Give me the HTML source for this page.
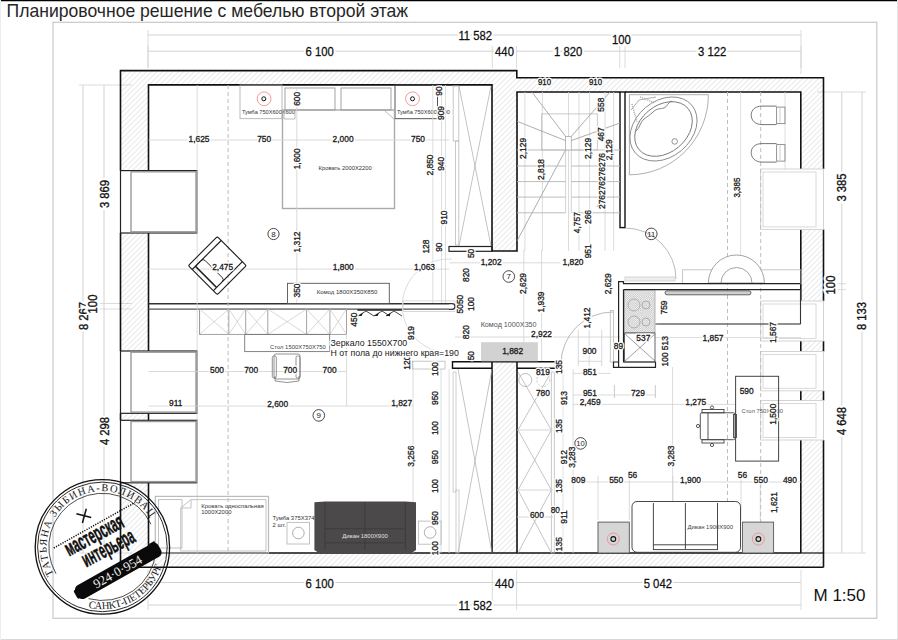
<!DOCTYPE html>
<html><head><meta charset="utf-8"><style>
html,body{margin:0;padding:0;background:#fff;}
svg{display:block;}
</style></head><body>
<svg width="898" height="640" viewBox="0 0 898 640" font-family="Liberation Sans, sans-serif">
<defs>
<pattern id="hatch" patternUnits="userSpaceOnUse" width="3.75" height="3.75" patternTransform="rotate(45)">
<line x1="0" y1="0" x2="0" y2="3.75" stroke="#c6c6c6" stroke-width="0.75"/>
</pattern>
<pattern id="checker" patternUnits="userSpaceOnUse" width="2.2" height="2.2"><rect width="2.2" height="2.2" fill="#fff"/><rect width="1.1" height="1.1" fill="#bbb"/><rect x="1.1" y="1.1" width="1.1" height="1.1" fill="#bbb"/></pattern>
</defs>
<rect width="898" height="640" fill="#fff"/>
<line x1="0" y1="0.5" x2="898" y2="0.5" stroke="#000" stroke-width="1.6"/>
<line x1="897.5" y1="0" x2="897.5" y2="640" stroke="#e6e6e6" stroke-width="1"/>
<line x1="0" y1="639.5" x2="898" y2="639.5" stroke="#d8d8d8" stroke-width="1"/>
<line x1="0.5" y1="0" x2="0.5" y2="640" stroke="#eeeeee" stroke-width="1"/>
<rect x="53" y="22.3" width="823.8" height="596.0" stroke="#c8c8c8" stroke-width="1.2" fill="none"/>
<text x="6.6" y="16.7" font-size="18.1" text-anchor="start" fill="#262626" font-weight="normal" font-family="Liberation Sans" textLength="401.5" lengthAdjust="spacingAndGlyphs">Планировочное решение с мебелью второй этаж</text>
<line x1="148" y1="35" x2="801" y2="35" stroke="#d2d2d2" stroke-width="1"/>
<line x1="148" y1="51.2" x2="801" y2="51.2" stroke="#d2d2d2" stroke-width="1"/>
<line x1="148" y1="46" x2="148" y2="68" stroke="#d2d2d2" stroke-width="0.8"/>
<line x1="492.3" y1="46" x2="492.3" y2="68" stroke="#d2d2d2" stroke-width="0.8"/>
<line x1="516.6" y1="46" x2="516.6" y2="68" stroke="#d2d2d2" stroke-width="0.8"/>
<line x1="619.7" y1="46" x2="619.7" y2="68" stroke="#d2d2d2" stroke-width="0.8"/>
<line x1="625" y1="46" x2="625" y2="68" stroke="#d2d2d2" stroke-width="0.8"/>
<line x1="801" y1="46" x2="801" y2="68" stroke="#d2d2d2" stroke-width="0.8"/>
<line x1="148" y1="30" x2="148" y2="68" stroke="#d2d2d2" stroke-width="0.8"/>
<line x1="801" y1="30" x2="801" y2="74" stroke="#d2d2d2" stroke-width="0.8"/>
<line x1="148" y1="582.5" x2="801" y2="582.5" stroke="#d2d2d2" stroke-width="1"/>
<line x1="148" y1="605" x2="801" y2="605" stroke="#d2d2d2" stroke-width="1"/>
<line x1="148" y1="570" x2="148" y2="610" stroke="#d2d2d2" stroke-width="0.8"/>
<line x1="492.3" y1="570" x2="492.3" y2="610" stroke="#d2d2d2" stroke-width="0.8"/>
<line x1="516.6" y1="570" x2="516.6" y2="610" stroke="#d2d2d2" stroke-width="0.8"/>
<line x1="801" y1="570" x2="801" y2="610" stroke="#d2d2d2" stroke-width="0.8"/>
<line x1="83" y1="85" x2="83" y2="553" stroke="#d2d2d2" stroke-width="1"/>
<line x1="104" y1="85" x2="104" y2="553" stroke="#d2d2d2" stroke-width="1"/>
<line x1="79" y1="85" x2="132" y2="85" stroke="#d2d2d2" stroke-width="0.8"/>
<line x1="79" y1="553" x2="132" y2="553" stroke="#d2d2d2" stroke-width="0.8"/>
<line x1="100" y1="303.5" x2="132" y2="303.5" stroke="#d2d2d2" stroke-width="0.8"/>
<line x1="100" y1="309" x2="132" y2="309" stroke="#d2d2d2" stroke-width="0.8"/>
<line x1="841.8" y1="92" x2="841.8" y2="553" stroke="#d2d2d2" stroke-width="1"/>
<line x1="862" y1="92" x2="862" y2="553" stroke="#d2d2d2" stroke-width="1"/>
<line x1="817" y1="92" x2="866" y2="92" stroke="#d2d2d2" stroke-width="0.8"/>
<line x1="817" y1="553" x2="866" y2="553" stroke="#d2d2d2" stroke-width="0.8"/>
<line x1="825" y1="283.7" x2="846" y2="283.7" stroke="#d2d2d2" stroke-width="0.8"/>
<line x1="825" y1="289.6" x2="846" y2="289.6" stroke="#d2d2d2" stroke-width="0.8"/>
<rect x="120" y="70.6" width="372" height="14.300000000000011" fill="url(#hatch)"/>
<rect x="492" y="70.6" width="25" height="180.4" fill="url(#hatch)"/>
<rect x="517" y="77.8" width="306.5" height="14.200000000000003" fill="url(#hatch)"/>
<rect x="120" y="84.9" width="28.5" height="85.69999999999999" fill="url(#hatch)"/>
<rect x="120" y="233" width="28.5" height="118" fill="url(#hatch)"/>
<rect x="120" y="413.3" width="28.5" height="7.0" fill="url(#hatch)"/>
<rect x="120" y="482.8" width="28.5" height="70.19999999999999" fill="url(#hatch)"/>
<rect x="120" y="553" width="703.5" height="14.299999999999955" fill="url(#hatch)"/>
<rect x="801" y="92" width="22.5" height="77" fill="url(#hatch)"/>
<rect x="801" y="229.4" width="22.5" height="71.6" fill="url(#hatch)"/>
<rect x="801" y="341" width="22.5" height="10.5" fill="url(#hatch)"/>
<rect x="801" y="390.8" width="22.5" height="9.699999999999989" fill="url(#hatch)"/>
<rect x="801" y="440" width="22.5" height="113" fill="url(#hatch)"/>
<rect x="492" y="361.7" width="25" height="191.3" fill="url(#hatch)"/>
<polyline points="120.5,170.6 120.5,70.6 516.8,70.6 516.8,77.8 823.5,77.8 823.5,169" stroke="#111" stroke-width="1.6" fill="none"/>
<polyline points="148.5,170.6 148.5,84.9 492,84.9 492,251 517,251 517,92 620,92" stroke="#111" stroke-width="1.6" fill="none"/>
<polyline points="625,92 800.8,92 800.8,169" stroke="#111" stroke-width="1.6" fill="none"/>
<line x1="120.5" y1="233" x2="120.5" y2="351" stroke="#111" stroke-width="1.6"/>
<line x1="148.5" y1="233" x2="148.5" y2="351" stroke="#111" stroke-width="1.6"/>
<line x1="120.5" y1="413.3" x2="120.5" y2="420.3" stroke="#111" stroke-width="1.6"/>
<line x1="148.5" y1="413.3" x2="148.5" y2="420.3" stroke="#111" stroke-width="1.6"/>
<line x1="120.5" y1="482.8" x2="120.5" y2="567.3" stroke="#111" stroke-width="1.6"/>
<line x1="148.5" y1="482.8" x2="148.5" y2="553" stroke="#111" stroke-width="1.6"/>
<line x1="120.5" y1="567.3" x2="823.5" y2="567.3" stroke="#111" stroke-width="1.6"/>
<line x1="148.5" y1="553" x2="801" y2="553" stroke="#111" stroke-width="1.6"/>
<line x1="801" y1="553" x2="823.5" y2="553" stroke="#111" stroke-width="1.2"/>
<line x1="823.5" y1="229.4" x2="823.5" y2="301" stroke="#111" stroke-width="1.6"/>
<line x1="800.8" y1="229.4" x2="800.8" y2="301" stroke="#111" stroke-width="1.6"/>
<line x1="823.5" y1="341" x2="823.5" y2="351.5" stroke="#111" stroke-width="1.6"/>
<line x1="800.8" y1="341" x2="800.8" y2="351.5" stroke="#111" stroke-width="1.6"/>
<line x1="823.5" y1="390.8" x2="823.5" y2="400.5" stroke="#111" stroke-width="1.6"/>
<line x1="800.8" y1="390.8" x2="800.8" y2="400.5" stroke="#111" stroke-width="1.6"/>
<line x1="823.5" y1="440" x2="823.5" y2="567.3" stroke="#111" stroke-width="1.6"/>
<line x1="800.8" y1="440" x2="800.8" y2="553" stroke="#111" stroke-width="1.6"/>
<rect x="120.5" y="170.6" width="76.5" height="62.400000000000006" stroke="#222" stroke-width="1.2" fill="none"/>
<rect x="131" y="171.79999999999998" width="65" height="60.00000000000003" stroke="#999" stroke-width="1.4" fill="none"/>
<rect x="120.5" y="351" width="76.5" height="62.30000000000001" stroke="#222" stroke-width="1.2" fill="none"/>
<rect x="131" y="352.2" width="65" height="59.900000000000034" stroke="#999" stroke-width="1.4" fill="none"/>
<rect x="120.5" y="420.3" width="76.5" height="62.5" stroke="#222" stroke-width="1.2" fill="none"/>
<rect x="131" y="421.5" width="65" height="60.10000000000002" stroke="#999" stroke-width="1.4" fill="none"/>
<rect x="760.6" y="169" width="62.89999999999998" height="60.400000000000006" stroke="#cfcfcf" stroke-width="0.9" fill="none"/>
<rect x="763" y="172" width="53" height="54.900000000000006" stroke="#d5d5d5" stroke-width="0.9" fill="none"/>
<rect x="760.6" y="301" width="62.89999999999998" height="40" stroke="#cfcfcf" stroke-width="0.9" fill="none"/>
<rect x="763" y="304" width="53" height="34.5" stroke="#d5d5d5" stroke-width="0.9" fill="none"/>
<rect x="760.6" y="351.5" width="62.89999999999998" height="39.30000000000001" stroke="#cfcfcf" stroke-width="0.9" fill="none"/>
<rect x="763" y="354.5" width="53" height="33.80000000000001" stroke="#d5d5d5" stroke-width="0.9" fill="none"/>
<rect x="760.6" y="400.5" width="62.89999999999998" height="39.5" stroke="#cfcfcf" stroke-width="0.9" fill="none"/>
<rect x="763" y="403.5" width="53" height="34.0" stroke="#d5d5d5" stroke-width="0.9" fill="none"/>
<path d="M 492 368.2 L 452.5 368.2 L 452.5 361.7 L 561.5 361.7 L 561.5 368.2 L 517 368.2" stroke="#111" stroke-width="1.4" fill="none"/>
<line x1="492" y1="361.7" x2="492" y2="553" stroke="#111" stroke-width="1.6"/>
<line x1="517" y1="361.7" x2="517" y2="553" stroke="#111" stroke-width="1.6"/>
<rect x="620" y="92" width="5" height="135.6" stroke="#111" stroke-width="1.4" fill="#fff"/>
<line x1="148.5" y1="303.7" x2="449" y2="303.7" stroke="#333" stroke-width="1.6"/>
<line x1="148.5" y1="309.2" x2="449" y2="309.2" stroke="#555" stroke-width="1.3"/>
<rect x="240" y="85" width="42" height="33.7" stroke="#aaa" stroke-width="0.8" fill="none"/>
<rect x="395" y="85" width="42.5" height="33.7" stroke="#444" stroke-width="0.9" fill="none"/>
<circle cx="264.1" cy="98.8" r="6.9" stroke="#f08080" stroke-width="0.8" fill="none"/>
<circle cx="263.8" cy="98.8" r="2" stroke="#111" stroke-width="1" fill="none"/>
<circle cx="412.5" cy="98.8" r="6.9" stroke="#f08080" stroke-width="0.8" fill="none"/>
<circle cx="412.5" cy="98.8" r="2" stroke="#111" stroke-width="1" fill="none"/>
<text x="242" y="114" font-size="5.6" text-anchor="start" fill="#333" font-weight="normal" font-family="Liberation Sans">Тумба 750Х600Х600</text>
<text x="397" y="114" font-size="5.6" text-anchor="start" fill="#333" font-weight="normal" font-family="Liberation Sans">Тумба 750Х600Х600</text>
<rect x="282.5" y="110" width="112.0" height="98.5" stroke="#aaa" stroke-width="1.4" fill="none"/>
<rect x="285" y="88" width="50" height="22" stroke="#999" stroke-width="0.9" fill="none"/>
<rect x="341" y="88" width="50" height="22" stroke="#999" stroke-width="0.9" fill="none"/>
<text x="345.2" y="170.3" font-size="5.85" text-anchor="middle" fill="#333" font-weight="normal" font-family="Liberation Sans">Кровать 2000Х2200</text>
<rect x="287.5" y="283.3" width="101.80000000000001" height="20.19999999999999" stroke="#555" stroke-width="0.9" fill="none"/>
<text x="347" y="294" font-size="6" text-anchor="middle" fill="#333" font-weight="normal" font-family="Liberation Sans">Комод 1800Х350Х850</text>
<line x1="445.5" y1="85" x2="445.5" y2="303" stroke="#d6d6d6" stroke-width="0.8"/>
<rect x="453.2" y="86" width="5.600000000000023" height="55" stroke="#bbb" stroke-width="0.8" fill="none"/>
<rect x="455.5" y="141" width="3.3000000000000114" height="104" stroke="#bbb" stroke-width="0.8" fill="none"/>
<rect x="449" y="246.5" width="43" height="4.800000000000011" stroke="#222" stroke-width="1.2" fill="none"/>
<line x1="459" y1="86" x2="491" y2="246" stroke="#aaa" stroke-width="0.7"/>
<line x1="491" y1="86" x2="459" y2="246" stroke="#aaa" stroke-width="0.7"/>
<rect x="199.5" y="309" width="147.0" height="25.399999999999977" stroke="#999" stroke-width="0.9" fill="none"/>
<line x1="199.6" y1="309" x2="199.6" y2="334.4" stroke="#999" stroke-width="0.9"/>
<line x1="199.6" y1="309" x2="228.8" y2="334.4" stroke="#c0c0c0" stroke-width="0.6"/>
<line x1="228.8" y1="309" x2="199.6" y2="334.4" stroke="#c0c0c0" stroke-width="0.6"/>
<line x1="228.8" y1="309" x2="228.8" y2="334.4" stroke="#999" stroke-width="0.9"/>
<line x1="228.8" y1="309" x2="245.7" y2="334.4" stroke="#c0c0c0" stroke-width="0.6"/>
<line x1="245.7" y1="309" x2="228.8" y2="334.4" stroke="#c0c0c0" stroke-width="0.6"/>
<line x1="245.7" y1="309" x2="245.7" y2="334.4" stroke="#999" stroke-width="0.9"/>
<line x1="245.7" y1="309" x2="267.8" y2="334.4" stroke="#c0c0c0" stroke-width="0.6"/>
<line x1="267.8" y1="309" x2="245.7" y2="334.4" stroke="#c0c0c0" stroke-width="0.6"/>
<line x1="267.8" y1="309" x2="267.8" y2="334.4" stroke="#999" stroke-width="0.9"/>
<line x1="267.8" y1="309" x2="306.6" y2="334.4" stroke="#c0c0c0" stroke-width="0.6"/>
<line x1="306.6" y1="309" x2="267.8" y2="334.4" stroke="#c0c0c0" stroke-width="0.6"/>
<line x1="306.6" y1="309" x2="306.6" y2="334.4" stroke="#999" stroke-width="0.9"/>
<line x1="306.6" y1="309" x2="329.9" y2="334.4" stroke="#c0c0c0" stroke-width="0.6"/>
<line x1="329.9" y1="309" x2="306.6" y2="334.4" stroke="#c0c0c0" stroke-width="0.6"/>
<line x1="329.9" y1="309" x2="329.9" y2="334.4" stroke="#999" stroke-width="0.9"/>
<line x1="329.9" y1="309" x2="346.5" y2="334.4" stroke="#c0c0c0" stroke-width="0.6"/>
<line x1="346.5" y1="309" x2="329.9" y2="334.4" stroke="#c0c0c0" stroke-width="0.6"/>
<line x1="357.3" y1="310" x2="402.4" y2="310" stroke="#222" stroke-width="1.6"/>
<text x="0" y="0" font-size="11.3" text-anchor="start" fill="#fff" stroke="#fff" stroke-width="4" font-weight="normal" font-family="Liberation Sans" transform="translate(458.4 39.8) scale(1 1.1)">11 582</text>
<text x="0" y="0" font-size="11.3" text-anchor="start" fill="#111" font-weight="normal" font-family="Liberation Sans" transform="translate(458.4 39.8) scale(1 1.1)" stroke="#111" stroke-width="0.25">11 582</text>
<text x="0" y="0" font-size="11.3" text-anchor="start" fill="#fff" stroke="#fff" stroke-width="4" font-weight="normal" font-family="Liberation Sans" transform="translate(305.5 55.6) scale(1 1.1)">6 100</text>
<text x="0" y="0" font-size="11.3" text-anchor="start" fill="#111" font-weight="normal" font-family="Liberation Sans" transform="translate(305.5 55.6) scale(1 1.1)" stroke="#111" stroke-width="0.25">6 100</text>
<text x="0" y="0" font-size="11.3" text-anchor="start" fill="#fff" stroke="#fff" stroke-width="4" font-weight="normal" font-family="Liberation Sans" transform="translate(495.1 55.6) scale(1 1.1)">440</text>
<text x="0" y="0" font-size="11.3" text-anchor="start" fill="#111" font-weight="normal" font-family="Liberation Sans" transform="translate(495.1 55.6) scale(1 1.1)" stroke="#111" stroke-width="0.25">440</text>
<text x="0" y="0" font-size="11.3" text-anchor="start" fill="#fff" stroke="#fff" stroke-width="4" font-weight="normal" font-family="Liberation Sans" transform="translate(554 55.6) scale(1 1.1)">1 820</text>
<text x="0" y="0" font-size="11.3" text-anchor="start" fill="#111" font-weight="normal" font-family="Liberation Sans" transform="translate(554 55.6) scale(1 1.1)" stroke="#111" stroke-width="0.25">1 820</text>
<text x="0" y="0" font-size="11.3" text-anchor="start" fill="#fff" stroke="#fff" stroke-width="4" font-weight="normal" font-family="Liberation Sans" transform="translate(612 44) scale(1 1.1)">100</text>
<text x="0" y="0" font-size="11.3" text-anchor="start" fill="#111" font-weight="normal" font-family="Liberation Sans" transform="translate(612 44) scale(1 1.1)" stroke="#111" stroke-width="0.25">100</text>
<text x="0" y="0" font-size="11.3" text-anchor="start" fill="#fff" stroke="#fff" stroke-width="4" font-weight="normal" font-family="Liberation Sans" transform="translate(698 55.6) scale(1 1.1)">3 122</text>
<text x="0" y="0" font-size="11.3" text-anchor="start" fill="#111" font-weight="normal" font-family="Liberation Sans" transform="translate(698 55.6) scale(1 1.1)" stroke="#111" stroke-width="0.25">3 122</text>
<text x="0" y="0" font-size="11.3" text-anchor="start" fill="#fff" stroke="#fff" stroke-width="4" font-weight="normal" font-family="Liberation Sans" transform="translate(305.5 587.5) scale(1 1.1)">6 100</text>
<text x="0" y="0" font-size="11.3" text-anchor="start" fill="#111" font-weight="normal" font-family="Liberation Sans" transform="translate(305.5 587.5) scale(1 1.1)" stroke="#111" stroke-width="0.25">6 100</text>
<text x="0" y="0" font-size="11.3" text-anchor="start" fill="#fff" stroke="#fff" stroke-width="4" font-weight="normal" font-family="Liberation Sans" transform="translate(495.1 587.5) scale(1 1.1)">440</text>
<text x="0" y="0" font-size="11.3" text-anchor="start" fill="#111" font-weight="normal" font-family="Liberation Sans" transform="translate(495.1 587.5) scale(1 1.1)" stroke="#111" stroke-width="0.25">440</text>
<text x="0" y="0" font-size="11.3" text-anchor="start" fill="#fff" stroke="#fff" stroke-width="4" font-weight="normal" font-family="Liberation Sans" transform="translate(643.7 587.5) scale(1 1.1)">5 042</text>
<text x="0" y="0" font-size="11.3" text-anchor="start" fill="#111" font-weight="normal" font-family="Liberation Sans" transform="translate(643.7 587.5) scale(1 1.1)" stroke="#111" stroke-width="0.25">5 042</text>
<text x="0" y="0" font-size="11.3" text-anchor="start" fill="#fff" stroke="#fff" stroke-width="4" font-weight="normal" font-family="Liberation Sans" transform="translate(458.4 609.6) scale(1 1.1)">11 582</text>
<text x="0" y="0" font-size="11.3" text-anchor="start" fill="#111" font-weight="normal" font-family="Liberation Sans" transform="translate(458.4 609.6) scale(1 1.1)" stroke="#111" stroke-width="0.25">11 582</text>
<text x="813.5" y="601.3" font-size="17" text-anchor="start" fill="#111" font-weight="normal" font-family="Liberation Sans">M 1:50</text>
<text x="0" y="0" font-size="11.3" text-anchor="middle" fill="#fff" stroke="#fff" stroke-width="4.5" font-family="Liberation Sans" transform="translate(109.4748 194) rotate(-90) scale(1 1.1)">3 869</text>
<text x="0" y="0" font-size="11.3" text-anchor="middle" fill="#111" stroke="#111" stroke-width="0.3" font-weight="normal" font-family="Liberation Sans" transform="translate(109.4748 194) rotate(-90) scale(1 1.1)">3 869</text>
<text x="0" y="0" font-size="11.3" text-anchor="middle" fill="#fff" stroke="#fff" stroke-width="4.5" font-family="Liberation Sans" transform="translate(88.4748 316) rotate(-90) scale(1 1.1)">8 267</text>
<text x="0" y="0" font-size="11.3" text-anchor="middle" fill="#111" stroke="#111" stroke-width="0.3" font-weight="normal" font-family="Liberation Sans" transform="translate(88.4748 316) rotate(-90) scale(1 1.1)">8 267</text>
<text x="0" y="0" font-size="11.3" text-anchor="middle" fill="#fff" stroke="#fff" stroke-width="4.5" font-family="Liberation Sans" transform="translate(97.4748 304) rotate(-90) scale(1 1.1)">100</text>
<text x="0" y="0" font-size="11.3" text-anchor="middle" fill="#111" stroke="#111" stroke-width="0.3" font-weight="normal" font-family="Liberation Sans" transform="translate(97.4748 304) rotate(-90) scale(1 1.1)">100</text>
<text x="0" y="0" font-size="11.3" text-anchor="middle" fill="#fff" stroke="#fff" stroke-width="4.5" font-family="Liberation Sans" transform="translate(109.4748 431) rotate(-90) scale(1 1.1)">4 298</text>
<text x="0" y="0" font-size="11.3" text-anchor="middle" fill="#111" stroke="#111" stroke-width="0.3" font-weight="normal" font-family="Liberation Sans" transform="translate(109.4748 431) rotate(-90) scale(1 1.1)">4 298</text>
<text x="0" y="0" font-size="11.3" text-anchor="middle" fill="#fff" stroke="#fff" stroke-width="4.5" font-family="Liberation Sans" transform="translate(846.2747999999999 187.5) rotate(-90) scale(1 1.1)">3 385</text>
<text x="0" y="0" font-size="11.3" text-anchor="middle" fill="#111" stroke="#111" stroke-width="0.3" font-weight="normal" font-family="Liberation Sans" transform="translate(846.2747999999999 187.5) rotate(-90) scale(1 1.1)">3 385</text>
<text x="0" y="0" font-size="11.3" text-anchor="middle" fill="#fff" stroke="#fff" stroke-width="4.5" font-family="Liberation Sans" transform="translate(834.9748 285) rotate(-90) scale(1 1.1)">100</text>
<text x="0" y="0" font-size="11.3" text-anchor="middle" fill="#111" stroke="#111" stroke-width="0.3" font-weight="normal" font-family="Liberation Sans" transform="translate(834.9748 285) rotate(-90) scale(1 1.1)">100</text>
<text x="0" y="0" font-size="11.3" text-anchor="middle" fill="#fff" stroke="#fff" stroke-width="4.5" font-family="Liberation Sans" transform="translate(866.2747999999999 316) rotate(-90) scale(1 1.1)">8 133</text>
<text x="0" y="0" font-size="11.3" text-anchor="middle" fill="#111" stroke="#111" stroke-width="0.3" font-weight="normal" font-family="Liberation Sans" transform="translate(866.2747999999999 316) rotate(-90) scale(1 1.1)">8 133</text>
<text x="0" y="0" font-size="11.3" text-anchor="middle" fill="#fff" stroke="#fff" stroke-width="4.5" font-family="Liberation Sans" transform="translate(846.2747999999999 421) rotate(-90) scale(1 1.1)">4 648</text>
<text x="0" y="0" font-size="11.3" text-anchor="middle" fill="#111" stroke="#111" stroke-width="0.3" font-weight="normal" font-family="Liberation Sans" transform="translate(846.2747999999999 421) rotate(-90) scale(1 1.1)">4 648</text>
<line x1="197.2" y1="85" x2="197.2" y2="553" stroke="#d4d4d4" stroke-width="0.8"/>
<line x1="228.1" y1="85" x2="228.1" y2="553" stroke="#bdbdbd" stroke-width="1.0" stroke-dasharray="4,3"/>
<line x1="148.5" y1="140" x2="449" y2="140" stroke="#d0d0d0" stroke-width="0.8"/>
<line x1="148.5" y1="269.1" x2="449" y2="269.1" stroke="#d0d0d0" stroke-width="0.8"/>
<line x1="296.8" y1="88" x2="296.8" y2="303" stroke="#cfcfcf" stroke-width="0.8"/>
<line x1="432.8" y1="85" x2="432.8" y2="303" stroke="#d6d6d6" stroke-width="0.8"/>
<line x1="441.5" y1="85" x2="441.5" y2="303" stroke="#d6d6d6" stroke-width="0.8"/>
<line x1="449.5" y1="262.8" x2="560" y2="262.8" stroke="#d0d0d0" stroke-width="0.8"/>
<line x1="455" y1="337" x2="620" y2="337" stroke="#d0d0d0" stroke-width="0.8"/>
<line x1="523.8" y1="250" x2="523.8" y2="361" stroke="#d0d0d0" stroke-width="0.8"/>
<line x1="541.6" y1="250" x2="541.6" y2="361" stroke="#d0d0d0" stroke-width="0.8"/>
<line x1="148.5" y1="371.5" x2="346.6" y2="371.5" stroke="#d0d0d0" stroke-width="0.8"/>
<line x1="148.5" y1="406" x2="413" y2="406" stroke="#d0d0d0" stroke-width="0.8"/>
<line x1="346.6" y1="334" x2="346.6" y2="406" stroke="#d0d0d0" stroke-width="0.8"/>
<line x1="413" y1="361" x2="413" y2="553" stroke="#d0d0d0" stroke-width="0.8"/>
<line x1="441" y1="369" x2="441" y2="553" stroke="#d6d6d6" stroke-width="0.8"/>
<line x1="449.1" y1="369" x2="449.1" y2="553" stroke="#d6d6d6" stroke-width="0.8"/>
<line x1="573.1" y1="369" x2="573.1" y2="553" stroke="#d0d0d0" stroke-width="0.8"/>
<line x1="563" y1="369" x2="563" y2="553" stroke="#dadada" stroke-width="0.8"/>
<line x1="672.6" y1="367" x2="672.6" y2="553" stroke="#d0d0d0" stroke-width="0.8"/>
<line x1="573" y1="373.4" x2="611" y2="373.4" stroke="#d0d0d0" stroke-width="0.8"/>
<line x1="573" y1="395" x2="656" y2="395" stroke="#d0d0d0" stroke-width="0.8"/>
<line x1="573" y1="404.4" x2="735" y2="404.4" stroke="#d0d0d0" stroke-width="0.8"/>
<line x1="614.4" y1="385" x2="614.4" y2="398" stroke="#bbb" stroke-width="0.8"/>
<line x1="655.3" y1="385" x2="655.3" y2="398" stroke="#bbb" stroke-width="0.8"/>
<line x1="573" y1="482" x2="801" y2="482" stroke="#d0d0d0" stroke-width="0.8"/>
<line x1="598" y1="476" x2="598" y2="520" stroke="#d0d0d0" stroke-width="0.8"/>
<line x1="629.3" y1="476" x2="629.3" y2="520" stroke="#d0d0d0" stroke-width="0.8"/>
<line x1="672.9" y1="476" x2="672.9" y2="520" stroke="#d0d0d0" stroke-width="0.8"/>
<line x1="741" y1="476" x2="741" y2="520" stroke="#d0d0d0" stroke-width="0.8"/>
<line x1="760.3" y1="476" x2="760.3" y2="520" stroke="#d0d0d0" stroke-width="0.8"/>
<line x1="727.5" y1="92" x2="727.5" y2="553" stroke="#bdbdbd" stroke-width="1.0" stroke-dasharray="4,3"/>
<line x1="760.7" y1="92" x2="760.7" y2="553" stroke="#bdbdbd" stroke-width="1.0" stroke-dasharray="4,3"/>
<line x1="740.6" y1="92" x2="740.6" y2="283" stroke="#d6d6d6" stroke-width="0.8"/>
<line x1="785" y1="92" x2="785" y2="170" stroke="#d6d6d6" stroke-width="0.8"/>
<line x1="660" y1="324" x2="801" y2="324" stroke="#d0d0d0" stroke-width="0.8"/>
<line x1="655" y1="337.5" x2="801" y2="337.5" stroke="#d6d6d6" stroke-width="0.8"/>
<line x1="524.9" y1="92" x2="524.9" y2="251" stroke="#d2d2d2" stroke-width="0.8"/>
<line x1="542.4" y1="92" x2="542.4" y2="251" stroke="#d2d2d2" stroke-width="0.8"/>
<line x1="568.5" y1="92" x2="568.5" y2="251" stroke="#d2d2d2" stroke-width="0.8"/>
<line x1="579" y1="92" x2="579" y2="251" stroke="#d2d2d2" stroke-width="0.8"/>
<line x1="589.6" y1="92" x2="589.6" y2="251" stroke="#d2d2d2" stroke-width="0.8"/>
<line x1="605" y1="92" x2="605" y2="251" stroke="#d2d2d2" stroke-width="0.8"/>
<line x1="613.6" y1="92" x2="613.6" y2="251" stroke="#d2d2d2" stroke-width="0.8"/>
<polyline points="284,110 284,119 295,119 295,110" stroke="#aaa" stroke-width="0.8" fill="none"/>
<polyline points="384,110 394,119" stroke="#aaa" stroke-width="0.8" fill="none"/>
<g transform="translate(217.3,265.6) rotate(45)" stroke="#1a1a1a" fill="none" stroke-width="1.1"><rect x="-20.5" y="-20.5" width="41" height="41" rx="1.5"/><line x1="-15" y1="-20.5" x2="-15" y2="20.5"/><line x1="15" y1="-20.5" x2="15" y2="20.5"/><line x1="-15" y1="16" x2="15" y2="16" stroke-width="1.6"/><path d="M -15 15 L -15 8 Q -15 5 -12 5 L 12 5 Q 15 5 15 8" stroke-width="0.9"/></g>
<circle cx="273.5" cy="234" r="5.6" stroke="#333" stroke-width="0.9" fill="none"/>
<text x="273.5" y="237" font-size="8" text-anchor="middle" fill="#222" font-weight="normal" font-family="Liberation Sans">8</text>
<rect x="403" y="300.9" width="52" height="10.600000000000023" stroke="#cfcfcf" stroke-width="0.8" fill="none"/>
<path d="M 449 303.7 L 452 303.7 Q 455 303.7 455 306.5 Q 455 309.3 452 309.3 L 449 309.3" stroke="#333" stroke-width="1.3" fill="none"/>
<path d="M 452 259 A 47 47 0 0 0 440 352" stroke="#d8d8d8" stroke-width="0.9" fill="none"/>
<polyline points="358,316 366,311 374,316 382,311 390,316" stroke="#333" stroke-width="0.9" fill="none"/>
<polyline points="386,316 394,311 402,316" stroke="#333" stroke-width="0.9" fill="none"/>
<path d="M 358 316 l 5 -3.2 l -1.5 3.2 z" fill="#111"/>
<path d="M 374 316 l 5 -3.2 l -1.5 3.2 z" fill="#111"/>
<path d="M 386 316 l 5 -3.2 l -1.5 3.2 z" fill="#111"/>
<rect x="412.5" y="361.2" width="32.5" height="7.800000000000011" stroke="#bbb" stroke-width="0.8" fill="none"/>
<rect x="541.5" y="113.9" width="55.799999999999955" height="36.099999999999994" stroke="#bdbdbd" stroke-width="0.8" fill="none"/>
<rect x="565.6" y="136.4" width="5.699999999999932" height="13.599999999999994" stroke="#aaa" stroke-width="0.8" fill="#fff"/>
<line x1="565.6" y1="150" x2="565.6" y2="212.8" stroke="#c8c8c8" stroke-width="0.8"/>
<line x1="571.3" y1="150" x2="571.3" y2="212.8" stroke="#c8c8c8" stroke-width="0.8"/>
<line x1="531.9" y1="92" x2="565.6" y2="136.4" stroke="#999" stroke-width="0.8"/>
<line x1="610" y1="92" x2="571.3" y2="136.4" stroke="#999" stroke-width="0.8"/>
<line x1="517" y1="121.3" x2="565.6" y2="140.6" stroke="#999" stroke-width="0.8"/>
<line x1="620" y1="123" x2="571.3" y2="140.6" stroke="#999" stroke-width="0.8"/>
<line x1="565.6" y1="150" x2="517" y2="241" stroke="#999" stroke-width="0.8"/>
<line x1="517" y1="150" x2="565.6" y2="150" stroke="#b5b5b5" stroke-width="0.9"/>
<line x1="571.3" y1="150" x2="620" y2="150" stroke="#b5b5b5" stroke-width="0.9"/>
<line x1="517" y1="166" x2="565.6" y2="166" stroke="#b5b5b5" stroke-width="0.9"/>
<line x1="571.3" y1="166" x2="620" y2="166" stroke="#b5b5b5" stroke-width="0.9"/>
<line x1="517" y1="181.6" x2="565.6" y2="181.6" stroke="#b5b5b5" stroke-width="0.9"/>
<line x1="571.3" y1="181.6" x2="620" y2="181.6" stroke="#b5b5b5" stroke-width="0.9"/>
<line x1="517" y1="197.1" x2="565.6" y2="197.1" stroke="#b5b5b5" stroke-width="0.9"/>
<line x1="571.3" y1="197.1" x2="620" y2="197.1" stroke="#b5b5b5" stroke-width="0.9"/>
<line x1="517" y1="212.8" x2="565.6" y2="212.8" stroke="#b5b5b5" stroke-width="0.9"/>
<line x1="571.3" y1="212.8" x2="620" y2="212.8" stroke="#b5b5b5" stroke-width="0.9"/>
<line x1="597" y1="207" x2="601" y2="200" stroke="#666" stroke-width="0.8"/>
<path d="M 629.4 174.8 L 629.4 94.7 L 708.4 94.7 A 79 80 0 0 1 629.4 174.8" stroke="#9a9a9a" stroke-width="0.8" fill="#fff"/>
<ellipse cx="663.5" cy="129" rx="37" ry="28" transform="rotate(-40 663.5 129)" stroke="#888" stroke-width="0.9" fill="#fff"/>
<ellipse cx="663.5" cy="129" rx="32" ry="23.5" transform="rotate(-40 663.5 129)" stroke="#777" stroke-width="0.9" fill="none"/>
<path d="M 636 131 C 640 128 640 122 644 119 C 648 116 650 115 653 112 C 657 108 661 109 664 108 C 667 107 668 102 672 101" stroke="#777" stroke-width="0.9" fill="none"/>
<path d="M 631 110 L 639 100 L 656 97" stroke="#999" stroke-width="0.8" fill="none"/>
<path d="M 632 104 L 637 122 M 640 97 L 655 103" stroke="#aaa" stroke-width="1.6" stroke-dasharray="1,1" fill="none"/>
<circle cx="674.7" cy="141.4" r="2.8" stroke="#777" stroke-width="0.8" fill="none"/>
<path d="M 776.6 106.1 L 762 106.1 C 755 106.1 751.2 110.1 751.2 115.1 C 751.2 120.1 755 124.6 762 124.6 L 776.6 124.6" stroke="#666" stroke-width="0.9" fill="none"/>
<rect x="776.6" y="107.1" width="8.399999999999977" height="16.5" stroke="#888" stroke-width="0.9" fill="none"/>
<line x1="780" y1="108.1" x2="780" y2="122.6" stroke="#aaa" stroke-width="0.6"/>
<path d="M 776.6 143.6 L 762 143.6 C 755 143.6 751.2 147.6 751.2 152.6 C 751.2 157.6 755 162.1 762 162.1 L 776.6 162.1" stroke="#666" stroke-width="0.9" fill="none"/>
<rect x="776.6" y="144.6" width="8.399999999999977" height="16.5" stroke="#888" stroke-width="0.9" fill="none"/>
<line x1="780" y1="145.6" x2="780" y2="160.1" stroke="#aaa" stroke-width="0.6"/>
<path d="M 625 228 A 51 51 0 0 1 676 279" stroke="#aaa" stroke-width="0.8" fill="none"/>
<rect x="625" y="277" width="50" height="4" stroke="#ccc" stroke-width="0.8" fill="#eee"/>
<circle cx="651.3" cy="233.9" r="5.8" stroke="#333" stroke-width="0.9" fill="none"/>
<text x="651.3" y="236.8" font-size="7.6" text-anchor="middle" fill="#222" font-weight="normal" font-family="Liberation Sans">11</text>
<rect x="682.4" y="269.8" width="118.60000000000002" height="13.899999999999977" stroke="#bbb" stroke-width="0.8" fill="none"/>
<path d="M 708.4 283 A 28 28 0 0 1 764.4 283 Z" stroke="#999" stroke-width="0.9" fill="#fff"/>
<path d="M 721 283 A 15.5 15.5 0 0 1 752 283" stroke="#999" stroke-width="0.9" fill="none"/>
<path d="M 561 364 A 52 52 0 0 1 613 312" stroke="#aaa" stroke-width="0.8" fill="none"/>
<rect x="610.3" y="310.5" width="3.1000000000000227" height="51.5" stroke="#bbb" stroke-width="0.8" fill="none"/>
<line x1="578" y1="361.3" x2="602" y2="361.3" stroke="#d0d0d0" stroke-width="0.8"/>
<line x1="578.3" y1="330" x2="578.3" y2="366" stroke="#d0d0d0" stroke-width="0.8"/>
<line x1="589.2" y1="330" x2="589.2" y2="366" stroke="#d0d0d0" stroke-width="0.8"/>
<line x1="601.7" y1="330" x2="601.7" y2="366" stroke="#d0d0d0" stroke-width="0.8"/>
<polyline points="618.6,367.4 618.6,281.6 623.5,281.6 623.5,283.7 800.5,283.7" stroke="#222" stroke-width="1.2" fill="none"/>
<line x1="623.5" y1="289.6" x2="800.5" y2="289.6" stroke="#222" stroke-width="1.2"/>
<polyline points="623.5,289.6 623.5,362 655.5,362 655.5,367.4 613.5,367.4 613.5,362 618.6,362" stroke="#222" stroke-width="1.2" fill="none"/>
<line x1="655.5" y1="324" x2="800.5" y2="324" stroke="#333" stroke-width="1.1"/>
<line x1="800.5" y1="289.6" x2="800.5" y2="324" stroke="#333" stroke-width="1.1"/>
<rect x="624.5" y="290.5" width="30.5" height="42" fill="url(#checker)" stroke="#888" stroke-width="0.6"/>
<rect x="624.5" y="333" width="30.5" height="29" stroke="#555" stroke-width="0.9" fill="none"/>
<line x1="625" y1="334" x2="655" y2="361" stroke="#777" stroke-width="0.7"/>
<line x1="655" y1="334" x2="625" y2="361" stroke="#777" stroke-width="0.7"/>
<circle cx="634" cy="305" r="6" stroke="#999" stroke-width="0.7" fill="none"/>
<circle cx="646" cy="305" r="4" stroke="#999" stroke-width="0.7" fill="none"/>
<circle cx="634" cy="322" r="6" stroke="#999" stroke-width="0.7" fill="none"/>
<circle cx="646" cy="322" r="4" stroke="#999" stroke-width="0.7" fill="none"/>
<rect x="665" y="290.8" width="86" height="4" rx="2" fill="#cfcfcf" stroke="#444" stroke-width="0.8"/>
<rect x="244.7" y="334.4" width="85.0" height="17.200000000000045" stroke="#777" stroke-width="0.9" fill="none"/>
<g stroke="#777" stroke-width="0.8" fill="none"><rect x="274" y="354" width="26" height="25" rx="2"/><rect x="272.3" y="356" width="4" height="22" rx="1.5"/><rect x="296" y="356" width="4" height="22" rx="1.5"/><path d="M 275 376 L 275 381 Q 287 384 299 381 L 299 376"/></g>
<circle cx="508.8" cy="276.5" r="5.8" stroke="#333" stroke-width="0.9" fill="none"/>
<text x="508.8" y="279.4" font-size="8" text-anchor="middle" fill="#222" font-weight="normal" font-family="Liberation Sans">7</text>
<circle cx="318.8" cy="415.4" r="5.8" stroke="#333" stroke-width="0.9" fill="none"/>
<text x="318.8" y="418.3" font-size="8" text-anchor="middle" fill="#222" font-weight="normal" font-family="Liberation Sans">9</text>
<rect x="155.3" y="496.4" width="113.19999999999999" height="56.60000000000002" stroke="#bbb" stroke-width="1.2" fill="none"/>
<rect x="158.5" y="499.6" width="23.5" height="48.39999999999998" stroke="#bbb" stroke-width="0.9" fill="none"/>
<polyline points="191,499.6 266,499.6 266,551 180.7,551 180.7,508 191,499.6 191,508 180.7,508" stroke="#bbb" stroke-width="0.9" fill="none"/>
<text x="201.3" y="507.6" font-size="5.9" text-anchor="start" fill="#333" font-weight="normal" font-family="Liberation Sans">Кровать односпальная</text>
<text x="201.3" y="514.2" font-size="5.9" text-anchor="start" fill="#333" font-weight="normal" font-family="Liberation Sans">1000Х2000</text>
<text x="272.6" y="520" font-size="5.9" text-anchor="start" fill="#333" font-weight="normal" font-family="Liberation Sans">Тумба 375Х374Х550</text>
<text x="272.6" y="526.7" font-size="5.9" text-anchor="start" fill="#333" font-weight="normal" font-family="Liberation Sans">2 шт.</text>
<rect x="287" y="522.4" width="22.5" height="21.600000000000023" stroke="#bbb" stroke-width="0.9" fill="none"/>
<circle cx="298.4" cy="533" r="5.8" stroke="#999" stroke-width="0.8" fill="none"/>
<rect x="418.4" y="521.1" width="22.700000000000045" height="23.100000000000023" stroke="#bbb" stroke-width="0.9" fill="none"/>
<circle cx="430.1" cy="532.5" r="5.8" stroke="#999" stroke-width="0.8" fill="none"/>
<g><path d="M 314.4 502.3 L 325 501.4 L 405.3 501.4 L 416 502.3 L 416 550.1 L 412 552.8 L 318.4 552.8 L 314.4 550.1 Z" fill="#4b4949"/><g stroke="#3a3838" stroke-width="0.8" fill="none"><line x1="325" y1="502" x2="325" y2="550"/><line x1="405.3" y1="502" x2="405.3" y2="550"/><line x1="364.9" y1="502" x2="364.9" y2="550"/><line x1="325" y1="528.8" x2="405.3" y2="528.8"/><line x1="325" y1="542.8" x2="405.3" y2="542.8"/></g><text x="365" y="538.1" font-size="5.9" text-anchor="middle" fill="#e0e0e0" font-family="Liberation Sans">Диван 1800Х900</text></g>
<line x1="458" y1="369" x2="492" y2="553" stroke="#aaa" stroke-width="0.7"/>
<line x1="492" y1="369" x2="458" y2="553" stroke="#aaa" stroke-width="0.7"/>
<rect x="453.1" y="372" width="2.8999999999999773" height="120" stroke="#bbb" stroke-width="0.7" fill="none"/>
<rect x="456" y="490" width="3" height="63" stroke="#bbb" stroke-width="0.7" fill="none"/>
<line x1="518" y1="372" x2="551.3" y2="430" stroke="#aaa" stroke-width="0.7"/>
<line x1="551.3" y1="372" x2="518" y2="430" stroke="#aaa" stroke-width="0.7"/>
<line x1="518" y1="430" x2="551.3" y2="490" stroke="#aaa" stroke-width="0.7"/>
<line x1="551.3" y1="430" x2="518" y2="490" stroke="#aaa" stroke-width="0.7"/>
<line x1="518" y1="490" x2="551.3" y2="553" stroke="#aaa" stroke-width="0.7"/>
<line x1="551.3" y1="490" x2="518" y2="553" stroke="#aaa" stroke-width="0.7"/>
<rect x="551.3" y="372" width="3.0" height="181" stroke="#bbb" stroke-width="0.8" fill="none"/>
<circle cx="525.3" cy="380" r="6.5" stroke="#aaa" stroke-width="0.8" fill="none"/>
<circle cx="543.3" cy="380" r="6.5" stroke="#bbb" stroke-width="0.8" fill="none" stroke-dasharray="2,1.5"/>
<line x1="517" y1="430" x2="553" y2="430" stroke="#ccc" stroke-width="0.8"/>
<line x1="517" y1="490" x2="553" y2="490" stroke="#ccc" stroke-width="0.8"/>
<line x1="517" y1="517" x2="553" y2="517" stroke="#ccc" stroke-width="0.8"/>
<circle cx="580.6" cy="443.4" r="5.8" stroke="#333" stroke-width="0.9" fill="none"/>
<text x="580.6" y="446.3" font-size="7.6" text-anchor="middle" fill="#222" font-weight="normal" font-family="Liberation Sans">10</text>
<rect x="735.6" y="376.3" width="43.0" height="84.80000000000001" stroke="#444" stroke-width="1.0" fill="none"/>
<text x="741.6" y="412.8" font-size="5.8" text-anchor="start" fill="#555" font-weight="normal" font-family="Liberation Sans">Стол 750Х1500</text>
<g stroke="#444" stroke-width="0.9" fill="none"><rect x="700.3" y="412.8" width="34.7" height="26.9" rx="1.5"/><line x1="708" y1="413" x2="708" y2="439.5"/><rect x="702" y="409.5" width="22" height="3.3"/><rect x="702" y="439.7" width="22" height="3.3"/><rect x="733.5" y="414.5" width="3" height="23"/><circle cx="712" cy="407.5" r="1.6"/><circle cx="712" cy="445" r="1.6"/><circle cx="698" cy="426" r="1.6"/></g>
<g stroke="#333" stroke-width="0.9" fill="#fff"><rect x="632" y="501.5" width="108.5" height="50.8" rx="5"/><line x1="653.4" y1="503" x2="653.4" y2="550"/><line x1="717.5" y1="503" x2="717.5" y2="550"/><line x1="685.4" y1="503" x2="685.4" y2="549"/><line x1="653.4" y1="544.8" x2="717.5" y2="544.8"/><line x1="653.4" y1="549.6" x2="717.5" y2="549.6"/></g>
<text x="687.6" y="528.8" font-size="5.9" text-anchor="start" fill="#444" font-weight="normal" font-family="Liberation Sans">Диван 1900Х900</text>
<rect x="598" y="522.1" width="31.299999999999955" height="30.899999999999977" stroke="#555" stroke-width="0.9" fill="#d6d6d6"/>
<circle cx="613.3" cy="539" r="6" stroke="#f08a8a" stroke-width="0.8" fill="none"/>
<circle cx="613.3" cy="539" r="2.4" stroke="#111" stroke-width="1.1" fill="none"/>
<rect x="742.4" y="522.1" width="31.200000000000045" height="30.899999999999977" stroke="#555" stroke-width="0.9" fill="#d6d6d6"/>
<circle cx="758.4" cy="539" r="6" stroke="#f08a8a" stroke-width="0.8" fill="none"/>
<circle cx="758.4" cy="539" r="2.4" stroke="#111" stroke-width="1.1" fill="none"/>
<text x="0" y="0" font-size="8.4" text-anchor="start" fill="#fff" stroke="#fff" stroke-width="2.8" font-weight="normal" font-family="Liberation Sans" transform="translate(188.5 141.5) scale(1 1.06)">1,625</text>
<text x="0" y="0" font-size="8.4" text-anchor="start" fill="#1c1c1c" font-weight="normal" font-family="Liberation Sans" transform="translate(188.5 141.5) scale(1 1.06)" stroke="#1c1c1c" stroke-width="0.3">1,625</text>
<text x="0" y="0" font-size="8.4" text-anchor="start" fill="#fff" stroke="#fff" stroke-width="2.8" font-weight="normal" font-family="Liberation Sans" transform="translate(257.2 141.5) scale(1 1.06)">750</text>
<text x="0" y="0" font-size="8.4" text-anchor="start" fill="#1c1c1c" font-weight="normal" font-family="Liberation Sans" transform="translate(257.2 141.5) scale(1 1.06)" stroke="#1c1c1c" stroke-width="0.3">750</text>
<text x="0" y="0" font-size="8.4" text-anchor="start" fill="#fff" stroke="#fff" stroke-width="2.8" font-weight="normal" font-family="Liberation Sans" transform="translate(332.6 141.6) scale(1 1.06)">2,000</text>
<text x="0" y="0" font-size="8.4" text-anchor="start" fill="#1c1c1c" font-weight="normal" font-family="Liberation Sans" transform="translate(332.6 141.6) scale(1 1.06)" stroke="#1c1c1c" stroke-width="0.3">2,000</text>
<text x="0" y="0" font-size="8.4" text-anchor="start" fill="#fff" stroke="#fff" stroke-width="2.8" font-weight="normal" font-family="Liberation Sans" transform="translate(411 141.5) scale(1 1.06)">750</text>
<text x="0" y="0" font-size="8.4" text-anchor="start" fill="#1c1c1c" font-weight="normal" font-family="Liberation Sans" transform="translate(411 141.5) scale(1 1.06)" stroke="#1c1c1c" stroke-width="0.3">750</text>
<text x="0" y="0" font-size="8.4" text-anchor="middle" fill="#fff" stroke="#fff" stroke-width="2.8" font-family="Liberation Sans" transform="translate(299.60544 98.8) rotate(-90) scale(1 1.06)">600</text>
<text x="0" y="0" font-size="8.4" text-anchor="middle" fill="#1c1c1c" stroke="#1c1c1c" stroke-width="0.3" font-weight="normal" font-family="Liberation Sans" transform="translate(299.60544 98.8) rotate(-90) scale(1 1.06)">600</text>
<text x="0" y="0" font-size="8.4" text-anchor="middle" fill="#fff" stroke="#fff" stroke-width="2.8" font-family="Liberation Sans" transform="translate(300.00544 158.8) rotate(-90) scale(1 1.06)">1,600</text>
<text x="0" y="0" font-size="8.4" text-anchor="middle" fill="#1c1c1c" stroke="#1c1c1c" stroke-width="0.3" font-weight="normal" font-family="Liberation Sans" transform="translate(300.00544 158.8) rotate(-90) scale(1 1.06)">1,600</text>
<text x="0" y="0" font-size="8.4" text-anchor="middle" fill="#fff" stroke="#fff" stroke-width="2.8" font-family="Liberation Sans" transform="translate(442.20544 91) rotate(-90) scale(1 1.06)">90</text>
<text x="0" y="0" font-size="8.4" text-anchor="middle" fill="#1c1c1c" stroke="#1c1c1c" stroke-width="0.3" font-weight="normal" font-family="Liberation Sans" transform="translate(442.20544 91) rotate(-90) scale(1 1.06)">90</text>
<text x="0" y="0" font-size="8.4" text-anchor="middle" fill="#fff" stroke="#fff" stroke-width="2.8" font-family="Liberation Sans" transform="translate(443.70544 113) rotate(-90) scale(1 1.06)">909</text>
<text x="0" y="0" font-size="8.4" text-anchor="middle" fill="#1c1c1c" stroke="#1c1c1c" stroke-width="0.3" font-weight="normal" font-family="Liberation Sans" transform="translate(443.70544 113) rotate(-90) scale(1 1.06)">909</text>
<text x="0" y="0" font-size="8.4" text-anchor="middle" fill="#fff" stroke="#fff" stroke-width="2.8" font-family="Liberation Sans" transform="translate(433.20544 165) rotate(-90) scale(1 1.06)">2,850</text>
<text x="0" y="0" font-size="8.4" text-anchor="middle" fill="#1c1c1c" stroke="#1c1c1c" stroke-width="0.3" font-weight="normal" font-family="Liberation Sans" transform="translate(433.20544 165) rotate(-90) scale(1 1.06)">2,850</text>
<text x="0" y="0" font-size="8.4" text-anchor="middle" fill="#fff" stroke="#fff" stroke-width="2.8" font-family="Liberation Sans" transform="translate(444.20544 163.8) rotate(-90) scale(1 1.06)">940</text>
<text x="0" y="0" font-size="8.4" text-anchor="middle" fill="#1c1c1c" stroke="#1c1c1c" stroke-width="0.3" font-weight="normal" font-family="Liberation Sans" transform="translate(444.20544 163.8) rotate(-90) scale(1 1.06)">940</text>
<text x="0" y="0" font-size="8.4" text-anchor="middle" fill="#fff" stroke="#fff" stroke-width="2.8" font-family="Liberation Sans" transform="translate(446.70544 217.5) rotate(-90) scale(1 1.06)">910</text>
<text x="0" y="0" font-size="8.4" text-anchor="middle" fill="#1c1c1c" stroke="#1c1c1c" stroke-width="0.3" font-weight="normal" font-family="Liberation Sans" transform="translate(446.70544 217.5) rotate(-90) scale(1 1.06)">910</text>
<text x="0" y="0" font-size="8.4" text-anchor="middle" fill="#fff" stroke="#fff" stroke-width="2.8" font-family="Liberation Sans" transform="translate(429.20544 246.6) rotate(-90) scale(1 1.06)">128</text>
<text x="0" y="0" font-size="8.4" text-anchor="middle" fill="#1c1c1c" stroke="#1c1c1c" stroke-width="0.3" font-weight="normal" font-family="Liberation Sans" transform="translate(429.20544 246.6) rotate(-90) scale(1 1.06)">128</text>
<text x="0" y="0" font-size="8.4" text-anchor="middle" fill="#fff" stroke="#fff" stroke-width="2.8" font-family="Liberation Sans" transform="translate(442.40544 247.2) rotate(-90) scale(1 1.06)">90</text>
<text x="0" y="0" font-size="8.4" text-anchor="middle" fill="#1c1c1c" stroke="#1c1c1c" stroke-width="0.3" font-weight="normal" font-family="Liberation Sans" transform="translate(442.40544 247.2) rotate(-90) scale(1 1.06)">90</text>
<text x="0" y="0" font-size="8.4" text-anchor="middle" fill="#fff" stroke="#fff" stroke-width="2.8" font-family="Liberation Sans" transform="translate(300.20544 242) rotate(-90) scale(1 1.06)">1,312</text>
<text x="0" y="0" font-size="8.4" text-anchor="middle" fill="#1c1c1c" stroke="#1c1c1c" stroke-width="0.3" font-weight="normal" font-family="Liberation Sans" transform="translate(300.20544 242) rotate(-90) scale(1 1.06)">1,312</text>
<text x="0" y="0" font-size="8.4" text-anchor="middle" fill="#fff" stroke="#fff" stroke-width="2.8" font-family="Liberation Sans" transform="translate(300.20544 290.5) rotate(-90) scale(1 1.06)">350</text>
<text x="0" y="0" font-size="8.4" text-anchor="middle" fill="#1c1c1c" stroke="#1c1c1c" stroke-width="0.3" font-weight="normal" font-family="Liberation Sans" transform="translate(300.20544 290.5) rotate(-90) scale(1 1.06)">350</text>
<text x="0" y="0" font-size="8.4" text-anchor="start" fill="#fff" stroke="#fff" stroke-width="2.8" font-weight="normal" font-family="Liberation Sans" transform="translate(212.2 270.4) scale(1 1.06)">2,475</text>
<text x="0" y="0" font-size="8.4" text-anchor="start" fill="#1c1c1c" font-weight="normal" font-family="Liberation Sans" transform="translate(212.2 270.4) scale(1 1.06)" stroke="#1c1c1c" stroke-width="0.3">2,475</text>
<text x="0" y="0" font-size="8.4" text-anchor="start" fill="#fff" stroke="#fff" stroke-width="2.8" font-weight="normal" font-family="Liberation Sans" transform="translate(332.8 270.4) scale(1 1.06)">1,800</text>
<text x="0" y="0" font-size="8.4" text-anchor="start" fill="#1c1c1c" font-weight="normal" font-family="Liberation Sans" transform="translate(332.8 270.4) scale(1 1.06)" stroke="#1c1c1c" stroke-width="0.3">1,800</text>
<text x="0" y="0" font-size="8.4" text-anchor="start" fill="#fff" stroke="#fff" stroke-width="2.8" font-weight="normal" font-family="Liberation Sans" transform="translate(414 270.3) scale(1 1.06)">1,063</text>
<text x="0" y="0" font-size="8.4" text-anchor="start" fill="#1c1c1c" font-weight="normal" font-family="Liberation Sans" transform="translate(414 270.3) scale(1 1.06)" stroke="#1c1c1c" stroke-width="0.3">1,063</text>
<text x="0" y="0" font-size="8.4" text-anchor="middle" fill="#fff" stroke="#fff" stroke-width="2.8" font-family="Liberation Sans" transform="translate(474.20544 253.4) rotate(-90) scale(1 1.06)">50</text>
<text x="0" y="0" font-size="8.4" text-anchor="middle" fill="#1c1c1c" stroke="#1c1c1c" stroke-width="0.3" font-weight="normal" font-family="Liberation Sans" transform="translate(474.20544 253.4) rotate(-90) scale(1 1.06)">50</text>
<text x="0" y="0" font-size="8.4" text-anchor="start" fill="#fff" stroke="#fff" stroke-width="2.8" font-weight="normal" font-family="Liberation Sans" transform="translate(480.7 265.3) scale(1 1.06)">1,202</text>
<text x="0" y="0" font-size="8.4" text-anchor="start" fill="#1c1c1c" font-weight="normal" font-family="Liberation Sans" transform="translate(480.7 265.3) scale(1 1.06)" stroke="#1c1c1c" stroke-width="0.3">1,202</text>
<text x="0" y="0" font-size="8.4" text-anchor="start" fill="#fff" stroke="#fff" stroke-width="2.8" font-weight="normal" font-family="Liberation Sans" transform="translate(562.5 265) scale(1 1.06)">1,820</text>
<text x="0" y="0" font-size="8.4" text-anchor="start" fill="#1c1c1c" font-weight="normal" font-family="Liberation Sans" transform="translate(562.5 265) scale(1 1.06)" stroke="#1c1c1c" stroke-width="0.3">1,820</text>
<text x="0" y="0" font-size="8.4" text-anchor="middle" fill="#fff" stroke="#fff" stroke-width="2.8" font-family="Liberation Sans" transform="translate(469.20544 275) rotate(-90) scale(1 1.06)">820</text>
<text x="0" y="0" font-size="8.4" text-anchor="middle" fill="#1c1c1c" stroke="#1c1c1c" stroke-width="0.3" font-weight="normal" font-family="Liberation Sans" transform="translate(469.20544 275) rotate(-90) scale(1 1.06)">820</text>
<text x="0" y="0" font-size="8.4" text-anchor="middle" fill="#fff" stroke="#fff" stroke-width="2.8" font-family="Liberation Sans" transform="translate(463.20544 304.1) rotate(-90) scale(1 1.06)">5050</text>
<text x="0" y="0" font-size="8.4" text-anchor="middle" fill="#1c1c1c" stroke="#1c1c1c" stroke-width="0.3" font-weight="normal" font-family="Liberation Sans" transform="translate(463.20544 304.1) rotate(-90) scale(1 1.06)">5050</text>
<text x="0" y="0" font-size="8.4" text-anchor="middle" fill="#fff" stroke="#fff" stroke-width="2.8" font-family="Liberation Sans" transform="translate(473.60544 304) rotate(-90) scale(1 1.06)">100</text>
<text x="0" y="0" font-size="8.4" text-anchor="middle" fill="#1c1c1c" stroke="#1c1c1c" stroke-width="0.3" font-weight="normal" font-family="Liberation Sans" transform="translate(473.60544 304) rotate(-90) scale(1 1.06)">100</text>
<text x="0" y="0" font-size="8.4" text-anchor="middle" fill="#fff" stroke="#fff" stroke-width="2.8" font-family="Liberation Sans" transform="translate(526.1054399999999 283.5) rotate(-90) scale(1 1.06)">2,629</text>
<text x="0" y="0" font-size="8.4" text-anchor="middle" fill="#1c1c1c" stroke="#1c1c1c" stroke-width="0.3" font-weight="normal" font-family="Liberation Sans" transform="translate(526.1054399999999 283.5) rotate(-90) scale(1 1.06)">2,629</text>
<text x="0" y="0" font-size="8.4" text-anchor="middle" fill="#fff" stroke="#fff" stroke-width="2.8" font-family="Liberation Sans" transform="translate(543.90544 302) rotate(-90) scale(1 1.06)">1,939</text>
<text x="0" y="0" font-size="8.4" text-anchor="middle" fill="#1c1c1c" stroke="#1c1c1c" stroke-width="0.3" font-weight="normal" font-family="Liberation Sans" transform="translate(543.90544 302) rotate(-90) scale(1 1.06)">1,939</text>
<text x="0" y="0" font-size="8.4" text-anchor="middle" fill="#fff" stroke="#fff" stroke-width="2.8" font-family="Liberation Sans" transform="translate(611.20544 283.8) rotate(-90) scale(1 1.06)">2,629</text>
<text x="0" y="0" font-size="8.4" text-anchor="middle" fill="#1c1c1c" stroke="#1c1c1c" stroke-width="0.3" font-weight="normal" font-family="Liberation Sans" transform="translate(611.20544 283.8) rotate(-90) scale(1 1.06)">2,629</text>
<text x="0" y="0" font-size="8.4" text-anchor="middle" fill="#fff" stroke="#fff" stroke-width="2.8" font-family="Liberation Sans" transform="translate(580.20544 222.7) rotate(-90) scale(1 1.06)">4,757</text>
<text x="0" y="0" font-size="8.4" text-anchor="middle" fill="#1c1c1c" stroke="#1c1c1c" stroke-width="0.3" font-weight="normal" font-family="Liberation Sans" transform="translate(580.20544 222.7) rotate(-90) scale(1 1.06)">4,757</text>
<text x="0" y="0" font-size="8.4" text-anchor="middle" fill="#fff" stroke="#fff" stroke-width="2.8" font-family="Liberation Sans" transform="translate(591.40544 217) rotate(-90) scale(1 1.06)">266</text>
<text x="0" y="0" font-size="8.4" text-anchor="middle" fill="#1c1c1c" stroke="#1c1c1c" stroke-width="0.3" font-weight="normal" font-family="Liberation Sans" transform="translate(591.40544 217) rotate(-90) scale(1 1.06)">266</text>
<text x="0" y="0" font-size="8.4" text-anchor="middle" fill="#fff" stroke="#fff" stroke-width="2.8" font-family="Liberation Sans" transform="translate(590.70544 251.3) rotate(-90) scale(1 1.06)">951</text>
<text x="0" y="0" font-size="8.4" text-anchor="middle" fill="#1c1c1c" stroke="#1c1c1c" stroke-width="0.3" font-weight="normal" font-family="Liberation Sans" transform="translate(590.70544 251.3) rotate(-90) scale(1 1.06)">951</text>
<text x="0" y="0" font-size="8.4" text-anchor="middle" fill="#fff" stroke="#fff" stroke-width="2.8" font-family="Liberation Sans" transform="translate(590.20544 318) rotate(-90) scale(1 1.06)">1,412</text>
<text x="0" y="0" font-size="8.4" text-anchor="middle" fill="#1c1c1c" stroke="#1c1c1c" stroke-width="0.3" font-weight="normal" font-family="Liberation Sans" transform="translate(590.20544 318) rotate(-90) scale(1 1.06)">1,412</text>
<text x="0" y="0" font-size="8.4" text-anchor="middle" fill="#fff" stroke="#fff" stroke-width="2.8" font-family="Liberation Sans" transform="translate(667.0054399999999 307.5) rotate(-90) scale(1 1.06)">759</text>
<text x="0" y="0" font-size="8.4" text-anchor="middle" fill="#1c1c1c" stroke="#1c1c1c" stroke-width="0.3" font-weight="normal" font-family="Liberation Sans" transform="translate(667.0054399999999 307.5) rotate(-90) scale(1 1.06)">759</text>
<text x="0" y="0" font-size="8.4" text-anchor="middle" fill="#fff" stroke="#fff" stroke-width="2.8" font-family="Liberation Sans" transform="translate(356.60544 319.7) rotate(-90) scale(1 1.06)">450</text>
<text x="0" y="0" font-size="8.4" text-anchor="middle" fill="#1c1c1c" stroke="#1c1c1c" stroke-width="0.3" font-weight="normal" font-family="Liberation Sans" transform="translate(356.60544 319.7) rotate(-90) scale(1 1.06)">450</text>
<text x="0" y="0" font-size="8.4" text-anchor="middle" fill="#fff" stroke="#fff" stroke-width="2.8" font-family="Liberation Sans" transform="translate(414.20544 333) rotate(-90) scale(1 1.06)">919</text>
<text x="0" y="0" font-size="8.4" text-anchor="middle" fill="#1c1c1c" stroke="#1c1c1c" stroke-width="0.3" font-weight="normal" font-family="Liberation Sans" transform="translate(414.20544 333) rotate(-90) scale(1 1.06)">919</text>
<text x="0" y="0" font-size="8.4" text-anchor="middle" fill="#fff" stroke="#fff" stroke-width="2.8" font-family="Liberation Sans" transform="translate(469.20544 332.2) rotate(-90) scale(1 1.06)">820</text>
<text x="0" y="0" font-size="8.4" text-anchor="middle" fill="#1c1c1c" stroke="#1c1c1c" stroke-width="0.3" font-weight="normal" font-family="Liberation Sans" transform="translate(469.20544 332.2) rotate(-90) scale(1 1.06)">820</text>
<text x="0" y="0" font-size="8.4" text-anchor="middle" fill="#fff" stroke="#fff" stroke-width="2.8" font-family="Liberation Sans" transform="translate(526.40544 148.4) rotate(-90) scale(1 1.06)">2,129</text>
<text x="0" y="0" font-size="8.4" text-anchor="middle" fill="#1c1c1c" stroke="#1c1c1c" stroke-width="0.3" font-weight="normal" font-family="Liberation Sans" transform="translate(526.40544 148.4) rotate(-90) scale(1 1.06)">2,129</text>
<text x="0" y="0" font-size="8.4" text-anchor="middle" fill="#fff" stroke="#fff" stroke-width="2.8" font-family="Liberation Sans" transform="translate(590.70544 148.4) rotate(-90) scale(1 1.06)">2,129</text>
<text x="0" y="0" font-size="8.4" text-anchor="middle" fill="#1c1c1c" stroke="#1c1c1c" stroke-width="0.3" font-weight="normal" font-family="Liberation Sans" transform="translate(590.70544 148.4) rotate(-90) scale(1 1.06)">2,129</text>
<text x="0" y="0" font-size="8.4" text-anchor="middle" fill="#fff" stroke="#fff" stroke-width="2.8" font-family="Liberation Sans" transform="translate(611.90544 149.8) rotate(-90) scale(1 1.06)">2,129</text>
<text x="0" y="0" font-size="8.4" text-anchor="middle" fill="#1c1c1c" stroke="#1c1c1c" stroke-width="0.3" font-weight="normal" font-family="Liberation Sans" transform="translate(611.90544 149.8) rotate(-90) scale(1 1.06)">2,129</text>
<text x="0" y="0" font-size="8.4" text-anchor="middle" fill="#fff" stroke="#fff" stroke-width="2.8" font-family="Liberation Sans" transform="translate(604.40544 104.7) rotate(-90) scale(1 1.06)">558</text>
<text x="0" y="0" font-size="8.4" text-anchor="middle" fill="#1c1c1c" stroke="#1c1c1c" stroke-width="0.3" font-weight="normal" font-family="Liberation Sans" transform="translate(604.40544 104.7) rotate(-90) scale(1 1.06)">558</text>
<text x="0" y="0" font-size="8.4" text-anchor="middle" fill="#fff" stroke="#fff" stroke-width="2.8" font-family="Liberation Sans" transform="translate(604.40544 134.3) rotate(-90) scale(1 1.06)">467</text>
<text x="0" y="0" font-size="8.4" text-anchor="middle" fill="#1c1c1c" stroke="#1c1c1c" stroke-width="0.3" font-weight="normal" font-family="Liberation Sans" transform="translate(604.40544 134.3) rotate(-90) scale(1 1.06)">467</text>
<text x="0" y="0" font-size="8.4" text-anchor="middle" fill="#fff" stroke="#fff" stroke-width="2.8" font-family="Liberation Sans" transform="translate(604.70544 181) rotate(-90) scale(1 1.06)">276276276276</text>
<text x="0" y="0" font-size="8.4" text-anchor="middle" fill="#1c1c1c" stroke="#1c1c1c" stroke-width="0.3" font-weight="normal" font-family="Liberation Sans" transform="translate(604.70544 181) rotate(-90) scale(1 1.06)">276276276276</text>
<text x="0" y="0" font-size="8.4" text-anchor="middle" fill="#fff" stroke="#fff" stroke-width="2.8" font-family="Liberation Sans" transform="translate(543.80544 169.5) rotate(-90) scale(1 1.06)">2,818</text>
<text x="0" y="0" font-size="8.4" text-anchor="middle" fill="#1c1c1c" stroke="#1c1c1c" stroke-width="0.3" font-weight="normal" font-family="Liberation Sans" transform="translate(543.80544 169.5) rotate(-90) scale(1 1.06)">2,818</text>
<text x="0" y="0" font-size="7.8" text-anchor="start" fill="#fff" stroke="#fff" stroke-width="2.8" font-weight="normal" font-family="Liberation Sans" transform="translate(538 84.5) scale(1 1.06)">910</text>
<text x="0" y="0" font-size="7.8" text-anchor="start" fill="#1c1c1c" font-weight="normal" font-family="Liberation Sans" transform="translate(538 84.5) scale(1 1.06)" stroke="#1c1c1c" stroke-width="0.3">910</text>
<text x="0" y="0" font-size="7.8" text-anchor="start" fill="#fff" stroke="#fff" stroke-width="2.8" font-weight="normal" font-family="Liberation Sans" transform="translate(589 84.5) scale(1 1.06)">910</text>
<text x="0" y="0" font-size="7.8" text-anchor="start" fill="#1c1c1c" font-weight="normal" font-family="Liberation Sans" transform="translate(589 84.5) scale(1 1.06)" stroke="#1c1c1c" stroke-width="0.3">910</text>
<text x="0" y="0" font-size="8.0" text-anchor="middle" fill="#fff" stroke="#fff" stroke-width="2.8" font-family="Liberation Sans" transform="translate(740.4528 187.6) rotate(-90) scale(1 1.06)">3,385</text>
<text x="0" y="0" font-size="8.0" text-anchor="middle" fill="#1c1c1c" stroke="#1c1c1c" stroke-width="0.3" font-weight="normal" font-family="Liberation Sans" transform="translate(740.4528 187.6) rotate(-90) scale(1 1.06)">3,385</text>
<text x="480.7" y="326.6" font-size="7.2" text-anchor="start" fill="#555" font-weight="normal" font-family="Liberation Sans">Комод 1000Х350</text>
<text x="0" y="0" font-size="8.4" text-anchor="start" fill="#fff" stroke="#fff" stroke-width="2.8" font-weight="normal" font-family="Liberation Sans" transform="translate(531 337.3) scale(1 1.06)">2,922</text>
<text x="0" y="0" font-size="8.4" text-anchor="start" fill="#1c1c1c" font-weight="normal" font-family="Liberation Sans" transform="translate(531 337.3) scale(1 1.06)" stroke="#1c1c1c" stroke-width="0.3">2,922</text>
<rect x="481" y="342.2" width="56.89999999999998" height="19.100000000000023" stroke="none" stroke-width="0" fill="#d2d2d2"/>
<text x="0" y="0" font-size="8.4" text-anchor="start" fill="#1c1c1c" font-weight="normal" font-family="Liberation Sans" transform="translate(502.2 354.2) scale(1 1.06)" stroke="#1c1c1c" stroke-width="0.3">1,882</text>
<text x="0" y="0" font-size="8.4" text-anchor="middle" fill="#fff" stroke="#fff" stroke-width="2.8" font-family="Liberation Sans" transform="translate(474.20544 355.7) rotate(-90) scale(1 1.06)">50</text>
<text x="0" y="0" font-size="8.4" text-anchor="middle" fill="#1c1c1c" stroke="#1c1c1c" stroke-width="0.3" font-weight="normal" font-family="Liberation Sans" transform="translate(474.20544 355.7) rotate(-90) scale(1 1.06)">50</text>
<text x="0" y="0" font-size="8.4" text-anchor="start" fill="#fff" stroke="#fff" stroke-width="2.8" font-weight="normal" font-family="Liberation Sans" transform="translate(210 372.8) scale(1 1.06)">500</text>
<text x="0" y="0" font-size="8.4" text-anchor="start" fill="#1c1c1c" font-weight="normal" font-family="Liberation Sans" transform="translate(210 372.8) scale(1 1.06)" stroke="#1c1c1c" stroke-width="0.3">500</text>
<text x="0" y="0" font-size="8.4" text-anchor="start" fill="#fff" stroke="#fff" stroke-width="2.8" font-weight="normal" font-family="Liberation Sans" transform="translate(244.2 372.8) scale(1 1.06)">700</text>
<text x="0" y="0" font-size="8.4" text-anchor="start" fill="#1c1c1c" font-weight="normal" font-family="Liberation Sans" transform="translate(244.2 372.8) scale(1 1.06)" stroke="#1c1c1c" stroke-width="0.3">700</text>
<text x="0" y="0" font-size="8.4" text-anchor="start" fill="#fff" stroke="#fff" stroke-width="2.8" font-weight="normal" font-family="Liberation Sans" transform="translate(283.2 372.8) scale(1 1.06)">700</text>
<text x="0" y="0" font-size="8.4" text-anchor="start" fill="#1c1c1c" font-weight="normal" font-family="Liberation Sans" transform="translate(283.2 372.8) scale(1 1.06)" stroke="#1c1c1c" stroke-width="0.3">700</text>
<text x="0" y="0" font-size="8.4" text-anchor="start" fill="#fff" stroke="#fff" stroke-width="2.8" font-weight="normal" font-family="Liberation Sans" transform="translate(322.6 372.8) scale(1 1.06)">700</text>
<text x="0" y="0" font-size="8.4" text-anchor="start" fill="#1c1c1c" font-weight="normal" font-family="Liberation Sans" transform="translate(322.6 372.8) scale(1 1.06)" stroke="#1c1c1c" stroke-width="0.3">700</text>
<text x="0" y="0" font-size="8.4" text-anchor="start" fill="#fff" stroke="#fff" stroke-width="2.8" font-weight="normal" font-family="Liberation Sans" transform="translate(169 406) scale(1 1.06)">911</text>
<text x="0" y="0" font-size="8.4" text-anchor="start" fill="#1c1c1c" font-weight="normal" font-family="Liberation Sans" transform="translate(169 406) scale(1 1.06)" stroke="#1c1c1c" stroke-width="0.3">911</text>
<text x="0" y="0" font-size="8.4" text-anchor="start" fill="#fff" stroke="#fff" stroke-width="2.8" font-weight="normal" font-family="Liberation Sans" transform="translate(267.2 406.6) scale(1 1.06)">2,600</text>
<text x="0" y="0" font-size="8.4" text-anchor="start" fill="#1c1c1c" font-weight="normal" font-family="Liberation Sans" transform="translate(267.2 406.6) scale(1 1.06)" stroke="#1c1c1c" stroke-width="0.3">2,600</text>
<text x="0" y="0" font-size="8.4" text-anchor="start" fill="#fff" stroke="#fff" stroke-width="2.8" font-weight="normal" font-family="Liberation Sans" transform="translate(391.2 406.3) scale(1 1.06)">1,827</text>
<text x="0" y="0" font-size="8.4" text-anchor="start" fill="#1c1c1c" font-weight="normal" font-family="Liberation Sans" transform="translate(391.2 406.3) scale(1 1.06)" stroke="#1c1c1c" stroke-width="0.3">1,827</text>
<text x="0" y="0" font-size="8.4" text-anchor="middle" fill="#fff" stroke="#fff" stroke-width="2.8" font-family="Liberation Sans" transform="translate(410.00544 362.7) rotate(-90) scale(1 1.06)">120</text>
<text x="0" y="0" font-size="8.4" text-anchor="middle" fill="#1c1c1c" stroke="#1c1c1c" stroke-width="0.3" font-weight="normal" font-family="Liberation Sans" transform="translate(410.00544 362.7) rotate(-90) scale(1 1.06)">120</text>
<text x="0" y="0" font-size="8.4" text-anchor="middle" fill="#fff" stroke="#fff" stroke-width="2.8" font-family="Liberation Sans" transform="translate(438.20544 369) rotate(-90) scale(1 1.06)">100</text>
<text x="0" y="0" font-size="8.4" text-anchor="middle" fill="#1c1c1c" stroke="#1c1c1c" stroke-width="0.3" font-weight="normal" font-family="Liberation Sans" transform="translate(438.20544 369) rotate(-90) scale(1 1.06)">100</text>
<text x="0" y="0" font-size="8.4" text-anchor="middle" fill="#fff" stroke="#fff" stroke-width="2.8" font-family="Liberation Sans" transform="translate(438.20544 398) rotate(-90) scale(1 1.06)">950</text>
<text x="0" y="0" font-size="8.4" text-anchor="middle" fill="#1c1c1c" stroke="#1c1c1c" stroke-width="0.3" font-weight="normal" font-family="Liberation Sans" transform="translate(438.20544 398) rotate(-90) scale(1 1.06)">950</text>
<text x="0" y="0" font-size="8.4" text-anchor="middle" fill="#fff" stroke="#fff" stroke-width="2.8" font-family="Liberation Sans" transform="translate(438.20544 428.1) rotate(-90) scale(1 1.06)">100</text>
<text x="0" y="0" font-size="8.4" text-anchor="middle" fill="#1c1c1c" stroke="#1c1c1c" stroke-width="0.3" font-weight="normal" font-family="Liberation Sans" transform="translate(438.20544 428.1) rotate(-90) scale(1 1.06)">100</text>
<text x="0" y="0" font-size="8.4" text-anchor="middle" fill="#fff" stroke="#fff" stroke-width="2.8" font-family="Liberation Sans" transform="translate(438.20544 457.2) rotate(-90) scale(1 1.06)">950</text>
<text x="0" y="0" font-size="8.4" text-anchor="middle" fill="#1c1c1c" stroke="#1c1c1c" stroke-width="0.3" font-weight="normal" font-family="Liberation Sans" transform="translate(438.20544 457.2) rotate(-90) scale(1 1.06)">950</text>
<text x="0" y="0" font-size="8.4" text-anchor="middle" fill="#fff" stroke="#fff" stroke-width="2.8" font-family="Liberation Sans" transform="translate(438.20544 486) rotate(-90) scale(1 1.06)">100</text>
<text x="0" y="0" font-size="8.4" text-anchor="middle" fill="#1c1c1c" stroke="#1c1c1c" stroke-width="0.3" font-weight="normal" font-family="Liberation Sans" transform="translate(438.20544 486) rotate(-90) scale(1 1.06)">100</text>
<text x="0" y="0" font-size="8.4" text-anchor="middle" fill="#fff" stroke="#fff" stroke-width="2.8" font-family="Liberation Sans" transform="translate(438.20544 518.1) rotate(-90) scale(1 1.06)">950</text>
<text x="0" y="0" font-size="8.4" text-anchor="middle" fill="#1c1c1c" stroke="#1c1c1c" stroke-width="0.3" font-weight="normal" font-family="Liberation Sans" transform="translate(438.20544 518.1) rotate(-90) scale(1 1.06)">950</text>
<text x="0" y="0" font-size="8.4" text-anchor="middle" fill="#fff" stroke="#fff" stroke-width="2.8" font-family="Liberation Sans" transform="translate(438.20544 548.2) rotate(-90) scale(1 1.06)">100</text>
<text x="0" y="0" font-size="8.4" text-anchor="middle" fill="#1c1c1c" stroke="#1c1c1c" stroke-width="0.3" font-weight="normal" font-family="Liberation Sans" transform="translate(438.20544 548.2) rotate(-90) scale(1 1.06)">100</text>
<text x="0" y="0" font-size="8.4" text-anchor="middle" fill="#fff" stroke="#fff" stroke-width="2.8" font-family="Liberation Sans" transform="translate(414.20544 456.2) rotate(-90) scale(1 1.06)">3,256</text>
<text x="0" y="0" font-size="8.4" text-anchor="middle" fill="#1c1c1c" stroke="#1c1c1c" stroke-width="0.3" font-weight="normal" font-family="Liberation Sans" transform="translate(414.20544 456.2) rotate(-90) scale(1 1.06)">3,256</text>
<text x="0" y="0" font-size="8.4" text-anchor="start" fill="#fff" stroke="#fff" stroke-width="2.8" font-weight="normal" font-family="Liberation Sans" transform="translate(535.9 375) scale(1 1.06)">819</text>
<text x="0" y="0" font-size="8.4" text-anchor="start" fill="#1c1c1c" font-weight="normal" font-family="Liberation Sans" transform="translate(535.9 375) scale(1 1.06)" stroke="#1c1c1c" stroke-width="0.3">819</text>
<text x="0" y="0" font-size="8.4" text-anchor="start" fill="#fff" stroke="#fff" stroke-width="2.8" font-weight="normal" font-family="Liberation Sans" transform="translate(535.9 396.1) scale(1 1.06)">780</text>
<text x="0" y="0" font-size="8.4" text-anchor="start" fill="#1c1c1c" font-weight="normal" font-family="Liberation Sans" transform="translate(535.9 396.1) scale(1 1.06)" stroke="#1c1c1c" stroke-width="0.3">780</text>
<text x="0" y="0" font-size="8.4" text-anchor="start" fill="#fff" stroke="#fff" stroke-width="2.8" font-weight="normal" font-family="Liberation Sans" transform="translate(582.9 375.3) scale(1 1.06)">851</text>
<text x="0" y="0" font-size="8.4" text-anchor="start" fill="#1c1c1c" font-weight="normal" font-family="Liberation Sans" transform="translate(582.9 375.3) scale(1 1.06)" stroke="#1c1c1c" stroke-width="0.3">851</text>
<text x="0" y="0" font-size="8.4" text-anchor="start" fill="#fff" stroke="#fff" stroke-width="2.8" font-weight="normal" font-family="Liberation Sans" transform="translate(582.9 396) scale(1 1.06)">951</text>
<text x="0" y="0" font-size="8.4" text-anchor="start" fill="#1c1c1c" font-weight="normal" font-family="Liberation Sans" transform="translate(582.9 396) scale(1 1.06)" stroke="#1c1c1c" stroke-width="0.3">951</text>
<text x="0" y="0" font-size="8.4" text-anchor="start" fill="#fff" stroke="#fff" stroke-width="2.8" font-weight="normal" font-family="Liberation Sans" transform="translate(630.9 396) scale(1 1.06)">729</text>
<text x="0" y="0" font-size="8.4" text-anchor="start" fill="#1c1c1c" font-weight="normal" font-family="Liberation Sans" transform="translate(630.9 396) scale(1 1.06)" stroke="#1c1c1c" stroke-width="0.3">729</text>
<text x="0" y="0" font-size="8.4" text-anchor="start" fill="#fff" stroke="#fff" stroke-width="2.8" font-weight="normal" font-family="Liberation Sans" transform="translate(579.7 405.3) scale(1 1.06)">2,459</text>
<text x="0" y="0" font-size="8.4" text-anchor="start" fill="#1c1c1c" font-weight="normal" font-family="Liberation Sans" transform="translate(579.7 405.3) scale(1 1.06)" stroke="#1c1c1c" stroke-width="0.3">2,459</text>
<text x="0" y="0" font-size="8.4" text-anchor="start" fill="#fff" stroke="#fff" stroke-width="2.8" font-weight="normal" font-family="Liberation Sans" transform="translate(582.5 353.8) scale(1 1.06)">900</text>
<text x="0" y="0" font-size="8.4" text-anchor="start" fill="#1c1c1c" font-weight="normal" font-family="Liberation Sans" transform="translate(582.5 353.8) scale(1 1.06)" stroke="#1c1c1c" stroke-width="0.3">900</text>
<text x="0" y="0" font-size="8.4" text-anchor="start" fill="#fff" stroke="#fff" stroke-width="2.8" font-weight="normal" font-family="Liberation Sans" transform="translate(613.8 348.8) scale(1 1.06)">89</text>
<text x="0" y="0" font-size="8.4" text-anchor="start" fill="#1c1c1c" font-weight="normal" font-family="Liberation Sans" transform="translate(613.8 348.8) scale(1 1.06)" stroke="#1c1c1c" stroke-width="0.3">89</text>
<text x="0" y="0" font-size="8.4" text-anchor="start" fill="#fff" stroke="#fff" stroke-width="2.8" font-weight="normal" font-family="Liberation Sans" transform="translate(636.3 341.3) scale(1 1.06)">537</text>
<text x="0" y="0" font-size="8.4" text-anchor="start" fill="#1c1c1c" font-weight="normal" font-family="Liberation Sans" transform="translate(636.3 341.3) scale(1 1.06)" stroke="#1c1c1c" stroke-width="0.3">537</text>
<text x="0" y="0" font-size="8.4" text-anchor="middle" fill="#fff" stroke="#fff" stroke-width="2.8" font-family="Liberation Sans" transform="translate(667.70544 351.3) rotate(-90) scale(1 1.06)">100 513</text>
<text x="0" y="0" font-size="8.4" text-anchor="middle" fill="#1c1c1c" stroke="#1c1c1c" stroke-width="0.3" font-weight="normal" font-family="Liberation Sans" transform="translate(667.70544 351.3) rotate(-90) scale(1 1.06)">100 513</text>
<text x="0" y="0" font-size="8.4" text-anchor="middle" fill="#fff" stroke="#fff" stroke-width="2.8" font-family="Liberation Sans" transform="translate(561.5054399999999 367) rotate(-90) scale(1 1.06)">135</text>
<text x="0" y="0" font-size="8.4" text-anchor="middle" fill="#1c1c1c" stroke="#1c1c1c" stroke-width="0.3" font-weight="normal" font-family="Liberation Sans" transform="translate(561.5054399999999 367) rotate(-90) scale(1 1.06)">135</text>
<text x="0" y="0" font-size="8.4" text-anchor="middle" fill="#fff" stroke="#fff" stroke-width="2.8" font-family="Liberation Sans" transform="translate(566.5054399999999 398.1) rotate(-90) scale(1 1.06)">913</text>
<text x="0" y="0" font-size="8.4" text-anchor="middle" fill="#1c1c1c" stroke="#1c1c1c" stroke-width="0.3" font-weight="normal" font-family="Liberation Sans" transform="translate(566.5054399999999 398.1) rotate(-90) scale(1 1.06)">913</text>
<text x="0" y="0" font-size="8.4" text-anchor="middle" fill="#fff" stroke="#fff" stroke-width="2.8" font-family="Liberation Sans" transform="translate(561.5054399999999 426.1) rotate(-90) scale(1 1.06)">135</text>
<text x="0" y="0" font-size="8.4" text-anchor="middle" fill="#1c1c1c" stroke="#1c1c1c" stroke-width="0.3" font-weight="normal" font-family="Liberation Sans" transform="translate(561.5054399999999 426.1) rotate(-90) scale(1 1.06)">135</text>
<text x="0" y="0" font-size="8.4" text-anchor="middle" fill="#fff" stroke="#fff" stroke-width="2.8" font-family="Liberation Sans" transform="translate(566.5054399999999 457.2) rotate(-90) scale(1 1.06)">912</text>
<text x="0" y="0" font-size="8.4" text-anchor="middle" fill="#1c1c1c" stroke="#1c1c1c" stroke-width="0.3" font-weight="normal" font-family="Liberation Sans" transform="translate(566.5054399999999 457.2) rotate(-90) scale(1 1.06)">912</text>
<text x="0" y="0" font-size="8.4" text-anchor="middle" fill="#fff" stroke="#fff" stroke-width="2.8" font-family="Liberation Sans" transform="translate(574.5054399999999 457.2) rotate(-90) scale(1 1.06)">3,283</text>
<text x="0" y="0" font-size="8.4" text-anchor="middle" fill="#1c1c1c" stroke="#1c1c1c" stroke-width="0.3" font-weight="normal" font-family="Liberation Sans" transform="translate(574.5054399999999 457.2) rotate(-90) scale(1 1.06)">3,283</text>
<text x="0" y="0" font-size="8.4" text-anchor="middle" fill="#fff" stroke="#fff" stroke-width="2.8" font-family="Liberation Sans" transform="translate(673.90544 456) rotate(-90) scale(1 1.06)">3,283</text>
<text x="0" y="0" font-size="8.4" text-anchor="middle" fill="#1c1c1c" stroke="#1c1c1c" stroke-width="0.3" font-weight="normal" font-family="Liberation Sans" transform="translate(673.90544 456) rotate(-90) scale(1 1.06)">3,283</text>
<text x="0" y="0" font-size="8.4" text-anchor="start" fill="#fff" stroke="#fff" stroke-width="2.8" font-weight="normal" font-family="Liberation Sans" transform="translate(571.3 482.8) scale(1 1.06)">809</text>
<text x="0" y="0" font-size="8.4" text-anchor="start" fill="#1c1c1c" font-weight="normal" font-family="Liberation Sans" transform="translate(571.3 482.8) scale(1 1.06)" stroke="#1c1c1c" stroke-width="0.3">809</text>
<text x="0" y="0" font-size="8.4" text-anchor="start" fill="#fff" stroke="#fff" stroke-width="2.8" font-weight="normal" font-family="Liberation Sans" transform="translate(609.2 482.8) scale(1 1.06)">550</text>
<text x="0" y="0" font-size="8.4" text-anchor="start" fill="#1c1c1c" font-weight="normal" font-family="Liberation Sans" transform="translate(609.2 482.8) scale(1 1.06)" stroke="#1c1c1c" stroke-width="0.3">550</text>
<text x="0" y="0" font-size="8.4" text-anchor="start" fill="#fff" stroke="#fff" stroke-width="2.8" font-weight="normal" font-family="Liberation Sans" transform="translate(627.9 477.6) scale(1 1.06)">56</text>
<text x="0" y="0" font-size="8.4" text-anchor="start" fill="#1c1c1c" font-weight="normal" font-family="Liberation Sans" transform="translate(627.9 477.6) scale(1 1.06)" stroke="#1c1c1c" stroke-width="0.3">56</text>
<text x="0" y="0" font-size="8.4" text-anchor="start" fill="#fff" stroke="#fff" stroke-width="2.8" font-weight="normal" font-family="Liberation Sans" transform="translate(680 482.8) scale(1 1.06)">1,900</text>
<text x="0" y="0" font-size="8.4" text-anchor="start" fill="#1c1c1c" font-weight="normal" font-family="Liberation Sans" transform="translate(680 482.8) scale(1 1.06)" stroke="#1c1c1c" stroke-width="0.3">1,900</text>
<text x="0" y="0" font-size="8.4" text-anchor="start" fill="#fff" stroke="#fff" stroke-width="2.8" font-weight="normal" font-family="Liberation Sans" transform="translate(737.8 477.6) scale(1 1.06)">56</text>
<text x="0" y="0" font-size="8.4" text-anchor="start" fill="#1c1c1c" font-weight="normal" font-family="Liberation Sans" transform="translate(737.8 477.6) scale(1 1.06)" stroke="#1c1c1c" stroke-width="0.3">56</text>
<text x="0" y="0" font-size="8.4" text-anchor="start" fill="#fff" stroke="#fff" stroke-width="2.8" font-weight="normal" font-family="Liberation Sans" transform="translate(753.8 482.8) scale(1 1.06)">550</text>
<text x="0" y="0" font-size="8.4" text-anchor="start" fill="#1c1c1c" font-weight="normal" font-family="Liberation Sans" transform="translate(753.8 482.8) scale(1 1.06)" stroke="#1c1c1c" stroke-width="0.3">550</text>
<text x="0" y="0" font-size="8.4" text-anchor="start" fill="#fff" stroke="#fff" stroke-width="2.8" font-weight="normal" font-family="Liberation Sans" transform="translate(782.9 482.8) scale(1 1.06)">490</text>
<text x="0" y="0" font-size="8.4" text-anchor="start" fill="#1c1c1c" font-weight="normal" font-family="Liberation Sans" transform="translate(782.9 482.8) scale(1 1.06)" stroke="#1c1c1c" stroke-width="0.3">490</text>
<text x="0" y="0" font-size="8.4" text-anchor="start" fill="#fff" stroke="#fff" stroke-width="2.8" font-weight="normal" font-family="Liberation Sans" transform="translate(702.5 340.5) scale(1 1.06)">1,857</text>
<text x="0" y="0" font-size="8.4" text-anchor="start" fill="#1c1c1c" font-weight="normal" font-family="Liberation Sans" transform="translate(702.5 340.5) scale(1 1.06)" stroke="#1c1c1c" stroke-width="0.3">1,857</text>
<text x="0" y="0" font-size="8.4" text-anchor="middle" fill="#fff" stroke="#fff" stroke-width="2.8" font-family="Liberation Sans" transform="translate(776.20544 332.5) rotate(-90) scale(1 1.06)">1,567</text>
<text x="0" y="0" font-size="8.4" text-anchor="middle" fill="#1c1c1c" stroke="#1c1c1c" stroke-width="0.3" font-weight="normal" font-family="Liberation Sans" transform="translate(776.20544 332.5) rotate(-90) scale(1 1.06)">1,567</text>
<text x="0" y="0" font-size="8.4" text-anchor="start" fill="#fff" stroke="#fff" stroke-width="2.8" font-weight="normal" font-family="Liberation Sans" transform="translate(739.7 393.5) scale(1 1.06)">590</text>
<text x="0" y="0" font-size="8.4" text-anchor="start" fill="#1c1c1c" font-weight="normal" font-family="Liberation Sans" transform="translate(739.7 393.5) scale(1 1.06)" stroke="#1c1c1c" stroke-width="0.3">590</text>
<text x="0" y="0" font-size="8.4" text-anchor="start" fill="#fff" stroke="#fff" stroke-width="2.8" font-weight="normal" font-family="Liberation Sans" transform="translate(685.3 405.3) scale(1 1.06)">1,275</text>
<text x="0" y="0" font-size="8.4" text-anchor="start" fill="#1c1c1c" font-weight="normal" font-family="Liberation Sans" transform="translate(685.3 405.3) scale(1 1.06)" stroke="#1c1c1c" stroke-width="0.3">1,275</text>
<text x="0" y="0" font-size="8.4" text-anchor="middle" fill="#fff" stroke="#fff" stroke-width="2.8" font-family="Liberation Sans" transform="translate(775.70544 414.2) rotate(-90) scale(1 1.06)">1,500</text>
<text x="0" y="0" font-size="8.4" text-anchor="middle" fill="#1c1c1c" stroke="#1c1c1c" stroke-width="0.3" font-weight="normal" font-family="Liberation Sans" transform="translate(775.70544 414.2) rotate(-90) scale(1 1.06)">1,500</text>
<text x="0" y="0" font-size="8.4" text-anchor="middle" fill="#fff" stroke="#fff" stroke-width="2.8" font-family="Liberation Sans" transform="translate(776.80544 502.6) rotate(-90) scale(1 1.06)">1,621</text>
<text x="0" y="0" font-size="8.4" text-anchor="middle" fill="#1c1c1c" stroke="#1c1c1c" stroke-width="0.3" font-weight="normal" font-family="Liberation Sans" transform="translate(776.80544 502.6) rotate(-90) scale(1 1.06)">1,621</text>
<text x="0" y="0" font-size="8.4" text-anchor="start" fill="#fff" stroke="#fff" stroke-width="2.8" font-weight="normal" font-family="Liberation Sans" transform="translate(529.9 518.1) scale(1 1.06)">600</text>
<text x="0" y="0" font-size="8.4" text-anchor="start" fill="#1c1c1c" font-weight="normal" font-family="Liberation Sans" transform="translate(529.9 518.1) scale(1 1.06)" stroke="#1c1c1c" stroke-width="0.3">600</text>
<text x="0" y="0" font-size="8.4" text-anchor="start" fill="#fff" stroke="#fff" stroke-width="2.8" font-weight="normal" font-family="Liberation Sans" transform="translate(550.7 513.1) scale(1 1.06)">80</text>
<text x="0" y="0" font-size="8.4" text-anchor="start" fill="#1c1c1c" font-weight="normal" font-family="Liberation Sans" transform="translate(550.7 513.1) scale(1 1.06)" stroke="#1c1c1c" stroke-width="0.3">80</text>
<text x="0" y="0" font-size="8.4" text-anchor="middle" fill="#fff" stroke="#fff" stroke-width="2.8" font-family="Liberation Sans" transform="translate(566.5054399999999 517.1) rotate(-90) scale(1 1.06)">911</text>
<text x="0" y="0" font-size="8.4" text-anchor="middle" fill="#1c1c1c" stroke="#1c1c1c" stroke-width="0.3" font-weight="normal" font-family="Liberation Sans" transform="translate(566.5054399999999 517.1) rotate(-90) scale(1 1.06)">911</text>
<text x="0" y="0" font-size="8.4" text-anchor="middle" fill="#fff" stroke="#fff" stroke-width="2.8" font-family="Liberation Sans" transform="translate(561.5054399999999 486) rotate(-90) scale(1 1.06)">135</text>
<text x="0" y="0" font-size="8.4" text-anchor="middle" fill="#1c1c1c" stroke="#1c1c1c" stroke-width="0.3" font-weight="normal" font-family="Liberation Sans" transform="translate(561.5054399999999 486) rotate(-90) scale(1 1.06)">135</text>
<text x="0" y="0" font-size="8.4" text-anchor="middle" fill="#fff" stroke="#fff" stroke-width="2.8" font-family="Liberation Sans" transform="translate(561.5054399999999 544.2) rotate(-90) scale(1 1.06)">135</text>
<text x="0" y="0" font-size="8.4" text-anchor="middle" fill="#1c1c1c" stroke="#1c1c1c" stroke-width="0.3" font-weight="normal" font-family="Liberation Sans" transform="translate(561.5054399999999 544.2) rotate(-90) scale(1 1.06)">135</text>
<text x="330.5" y="346.4" font-size="8.8" text-anchor="start" fill="#fff" stroke="#fff" stroke-width="2.8" font-weight="normal" font-family="Liberation Sans">Зеркало 1550Х700</text>
<text x="330.5" y="346.4" font-size="8.8" text-anchor="start" fill="#222" font-weight="normal" font-family="Liberation Sans">Зеркало 1550Х700</text>
<text x="330.5" y="356.3" font-size="8.8" text-anchor="start" fill="#fff" stroke="#fff" stroke-width="2.8" font-weight="normal" font-family="Liberation Sans">Н от пола до нижнего края=190</text>
<text x="330.5" y="356.3" font-size="8.8" text-anchor="start" fill="#222" font-weight="normal" font-family="Liberation Sans">Н от пола до нижнего края=190</text>
<text x="270" y="349.4" font-size="5.9" text-anchor="start" fill="#444" font-weight="normal" font-family="Liberation Sans">Стол 1500Х750Х750</text>
<g id="stamp">
<circle cx="102.4" cy="546.9" r="67.2" stroke="#111" stroke-width="1.3" fill="none"/>
<circle cx="102.4" cy="546.9" r="64.8" stroke="#111" stroke-width="0.9" fill="none"/>
<path d="M 55.98 573.70 A 53.6 53.6 0 0 1 77.65 499.36 A 53.6 53.6 0 0 1 150.98 524.25" stroke="#222" stroke-width="0.8" fill="none"/>
<path d="M 155.80 551.57 A 53.6 53.6 0 0 1 133.14 590.81 A 53.6 53.6 0 0 1 88.53 598.67" stroke="#222" stroke-width="0.8" fill="none"/>
<path id="ptop" d="M 53.83 574.38 A 55.8 55.8 0 0 1 75.13 498.21 A 55.8 55.8 0 0 1 151.20 519.85" fill="none" stroke="none"/>
<path id="pbot" d="M 88.39 607.60 A 62.3 62.3 0 0 0 135.87 599.44 A 62.3 62.3 0 0 0 163.34 559.85" fill="none" stroke="none"/>
<text font-family="Liberation Serif" font-size="10.5" fill="#1a1a1a"><textPath href="#ptop" textLength="173" lengthAdjust="spacing">ТАТЬЯНА ЗЫБИНА-ВОЛИВАЦ</textPath></text>
<text font-family="Liberation Serif" font-size="10.5" fill="#1a1a1a"><textPath href="#pbot" textLength="93" lengthAdjust="spacing">САНКТ-ПЕТЕРБУРГ</textPath></text>
<line x1="76.4" y1="513.8" x2="91.2" y2="517.6" stroke="#111" stroke-width="1.5"/>
<line x1="86.3" y1="508.8" x2="82.4" y2="523" stroke="#111" stroke-width="1.5"/>
<line x1="53.8" y1="548" x2="135" y2="502.5" stroke="#111" stroke-width="1.5" stroke-dasharray="1.2,1.3"/>
<text x="0" y="0" font-family="Liberation Sans" font-weight="bold" font-size="22" fill="#111" stroke="#111" stroke-width="0.5" transform="translate(69.3,556.4) rotate(-28.1)" textLength="63.8" lengthAdjust="spacingAndGlyphs">мастерская</text>
<text x="0" y="0" font-family="Liberation Sans" font-weight="bold" font-size="22" fill="#111" stroke="#111" stroke-width="0.5" transform="translate(86.3,567.4) rotate(-27.6)" textLength="56.8" lengthAdjust="spacingAndGlyphs">интерьера</text>
<g transform="translate(118.3,571) rotate(-29.3)"><rect x="-47.5" y="-7.6" width="95" height="15.2" rx="5" fill="#0a0a0a"/><rect x="-49" y="-5" width="6" height="10" rx="2" fill="#0a0a0a"/><rect x="40" y="-8.6" width="6" height="4" fill="#0a0a0a"/><text x="-1" y="4.6" font-family="Liberation Serif" font-size="13" fill="#eee" text-anchor="middle" textLength="54" lengthAdjust="spacingAndGlyphs">924·0·954</text></g>
</g>
</svg>
</body></html>
